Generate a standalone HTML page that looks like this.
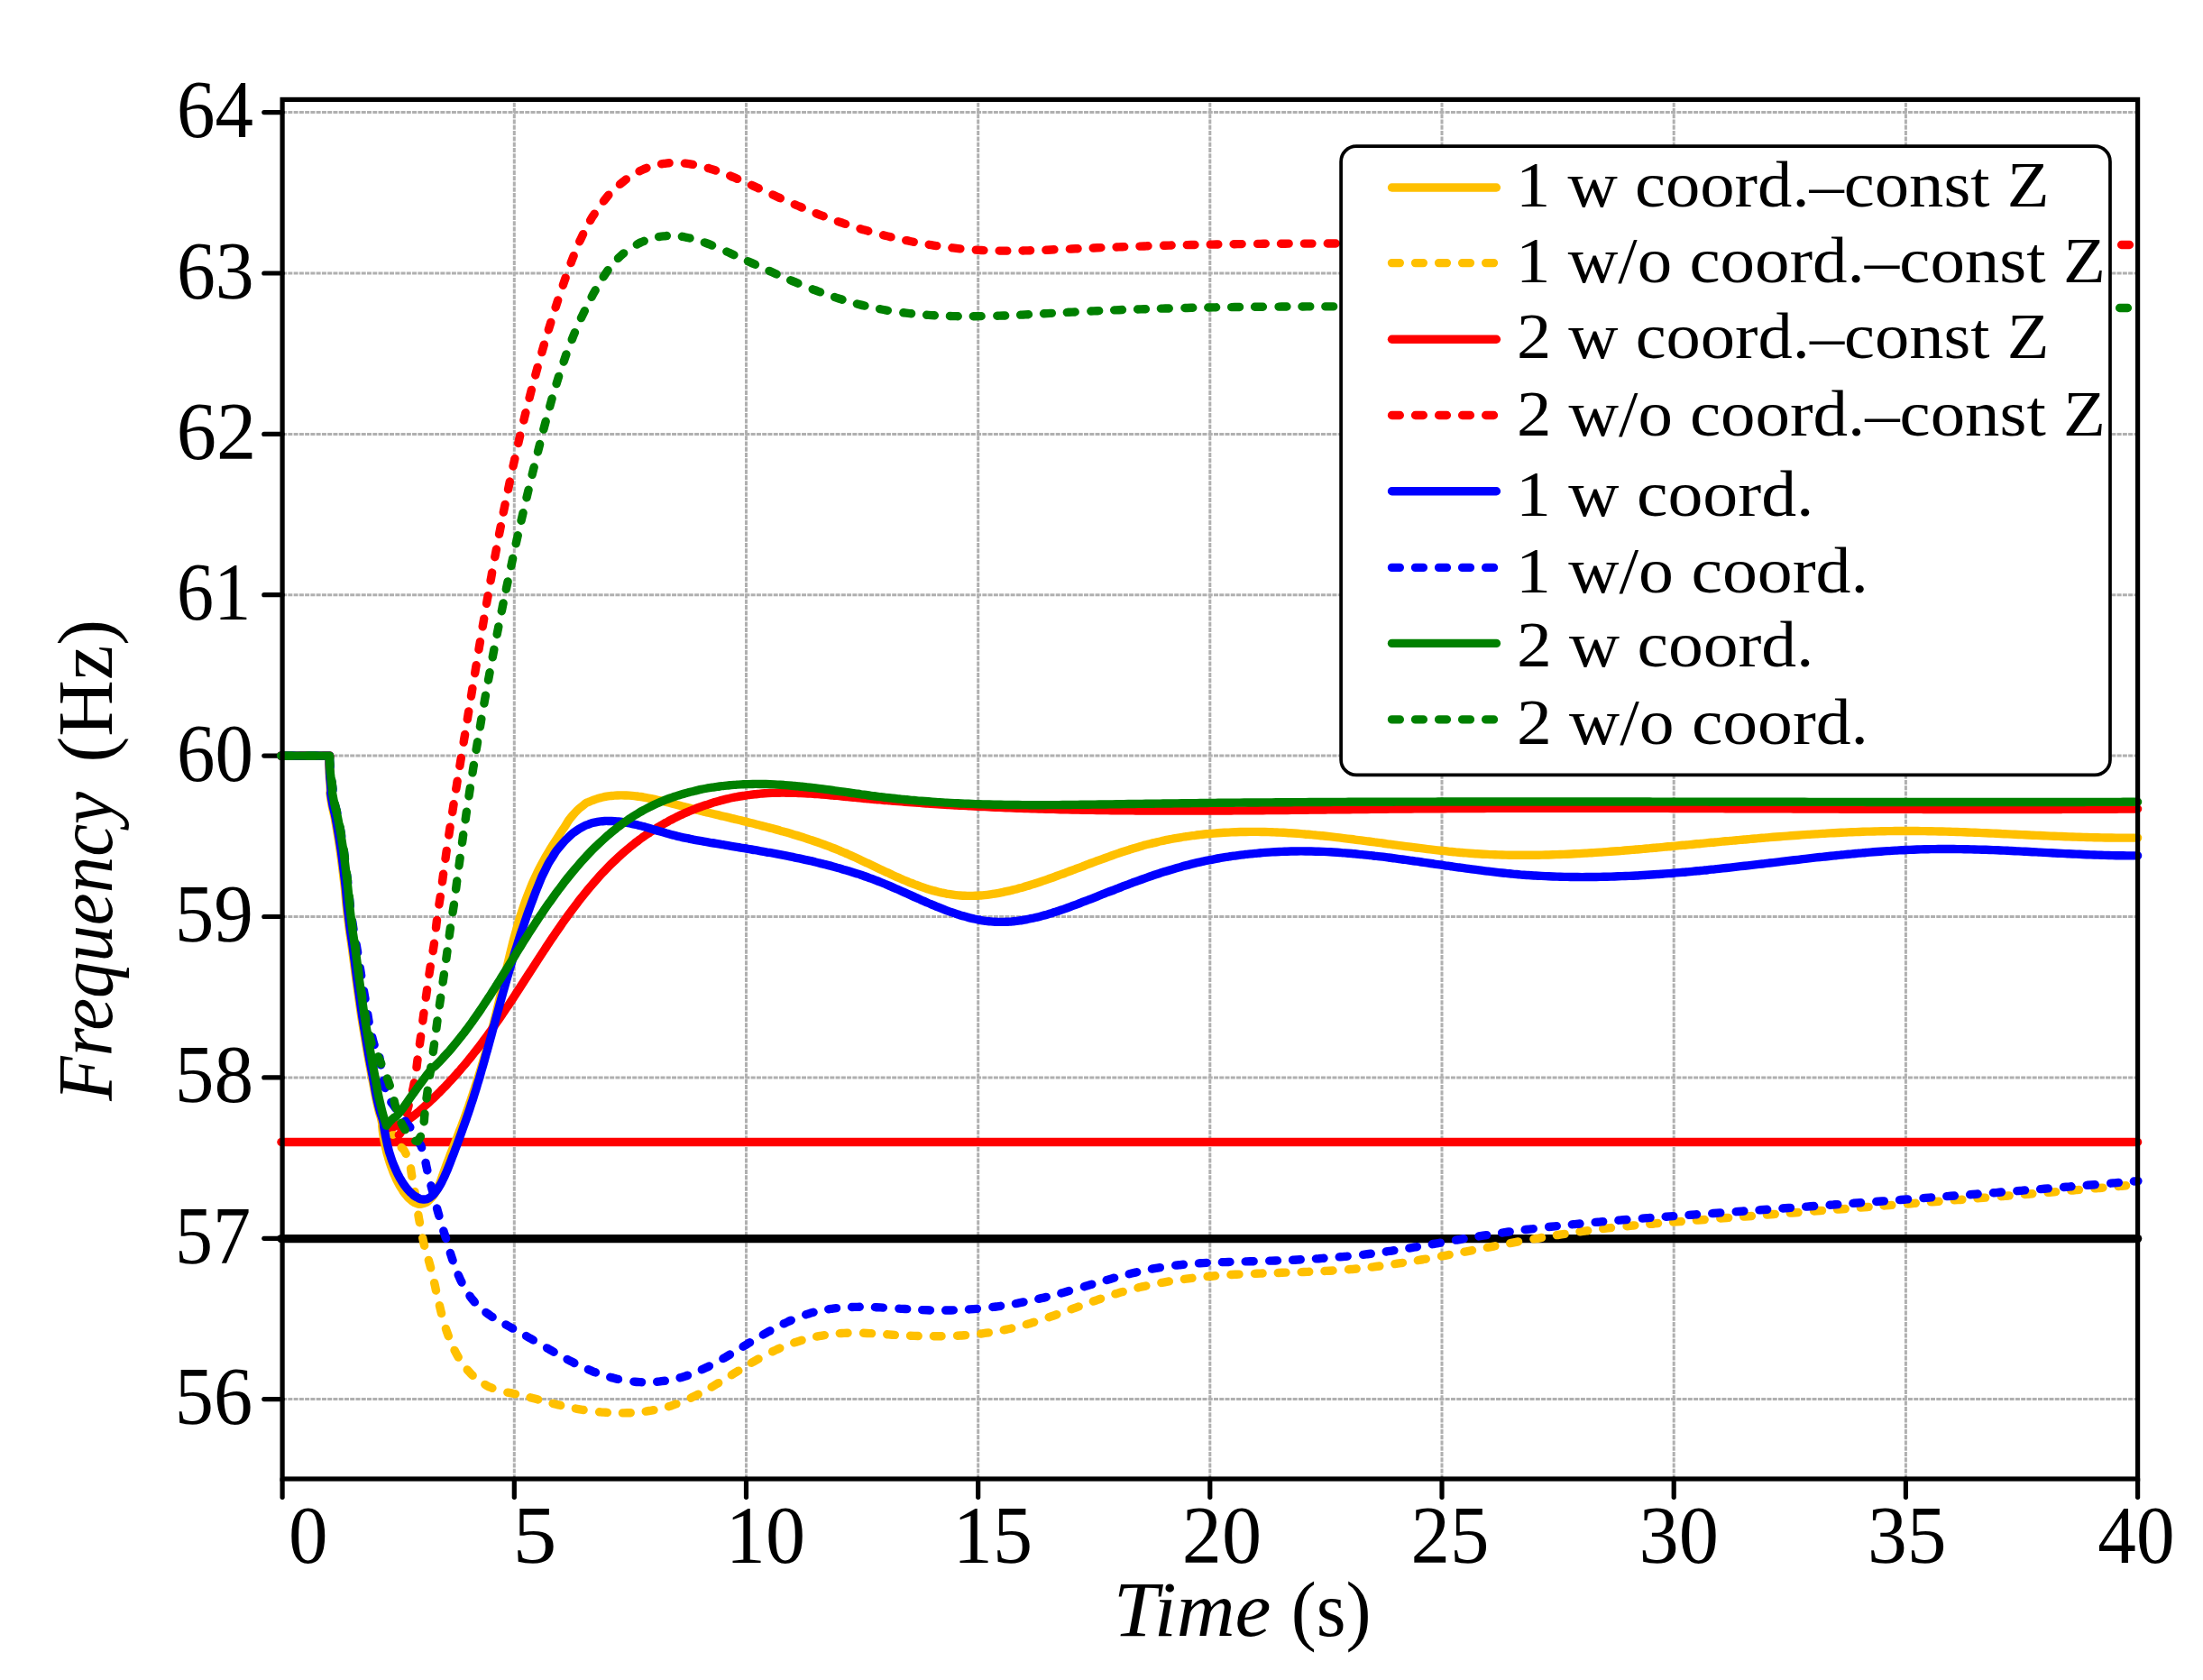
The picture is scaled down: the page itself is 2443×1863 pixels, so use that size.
<!DOCTYPE html>
<html lang="en"><head><meta charset="utf-8"><title>Frequency response</title>
<style>html,body{margin:0;padding:0;background:#fff}svg{display:block}text{font-family:"Liberation Serif","DejaVu Serif",serif;fill:#000}</style>
</head><body>
<svg width="2443" height="1863" viewBox="0 0 2443 1863" role="img" aria-label="Frequency versus time for eight simulated cases">
<rect width="2443" height="1863" fill="#fff"/>
<g stroke="#b0b0b0" stroke-width="3" stroke-dasharray="5 1.26" fill="none">
<line x1="570.3" y1="1640.0" x2="570.3" y2="110.4"/>
<line x1="827.5" y1="1640.0" x2="827.5" y2="110.4"/>
<line x1="1084.7" y1="1640.0" x2="1084.7" y2="110.4"/>
<line x1="1341.8" y1="1640.0" x2="1341.8" y2="110.4"/>
<line x1="1599.0" y1="1640.0" x2="1599.0" y2="110.4"/>
<line x1="1856.2" y1="1640.0" x2="1856.2" y2="110.4"/>
<line x1="2113.4" y1="1640.0" x2="2113.4" y2="110.4"/>
<line x1="313.1" y1="1551.6" x2="2370.6" y2="1551.6"/>
<line x1="313.1" y1="1373.3" x2="2370.6" y2="1373.3"/>
<line x1="313.1" y1="1194.9" x2="2370.6" y2="1194.9"/>
<line x1="313.1" y1="1016.5" x2="2370.6" y2="1016.5"/>
<line x1="313.1" y1="838.1" x2="2370.6" y2="838.1"/>
<line x1="313.1" y1="659.7" x2="2370.6" y2="659.7"/>
<line x1="313.1" y1="481.4" x2="2370.6" y2="481.4"/>
<line x1="313.1" y1="303.0" x2="2370.6" y2="303.0"/>
<line x1="313.1" y1="124.6" x2="2370.6" y2="124.6"/>
</g>
<g stroke="#000" stroke-width="5.2" stroke-linecap="round" fill="none">
<line x1="313.1" y1="1640.0" x2="313.1" y2="1660.3"/>
<line x1="570.3" y1="1640.0" x2="570.3" y2="1660.3"/>
<line x1="827.5" y1="1640.0" x2="827.5" y2="1660.3"/>
<line x1="1084.7" y1="1640.0" x2="1084.7" y2="1660.3"/>
<line x1="1341.8" y1="1640.0" x2="1341.8" y2="1660.3"/>
<line x1="1599.0" y1="1640.0" x2="1599.0" y2="1660.3"/>
<line x1="1856.2" y1="1640.0" x2="1856.2" y2="1660.3"/>
<line x1="2113.4" y1="1640.0" x2="2113.4" y2="1660.3"/>
<line x1="2370.6" y1="1640.0" x2="2370.6" y2="1660.3"/>
<line x1="313.1" y1="1551.6" x2="292.8" y2="1551.6"/>
<line x1="313.1" y1="1373.3" x2="292.8" y2="1373.3"/>
<line x1="313.1" y1="1194.9" x2="292.8" y2="1194.9"/>
<line x1="313.1" y1="1016.5" x2="292.8" y2="1016.5"/>
<line x1="313.1" y1="838.1" x2="292.8" y2="838.1"/>
<line x1="313.1" y1="659.7" x2="292.8" y2="659.7"/>
<line x1="313.1" y1="481.4" x2="292.8" y2="481.4"/>
<line x1="313.1" y1="303.0" x2="292.8" y2="303.0"/>
<line x1="313.1" y1="124.6" x2="292.8" y2="124.6"/>
</g>
<g fill="none" stroke-width="9.4" stroke-linecap="round">
<line x1="311.9" y1="1373.6" x2="2370.6" y2="1373.6" stroke="#000"/>
<line x1="311.9" y1="1266.5" x2="2370.6" y2="1266.5" stroke="#FF0000"/>
</g>
<path d="M311.6 838.1L365.6 838.1C365.4 842.4 364.8 839.5 365.0 851.0C365.2 862.5 365.5 860.5 366.2 872.6C366.9 884.7 364.7 871.2 367.1 887.2C369.6 903.2 369.2 893.6 373.6 920.5C378.0 947.4 376.4 936.2 380.4 968.0C384.4 999.8 382.0 986.7 385.5 1016.0C389.0 1045.3 387.1 1027.0 391.0 1056.0C394.9 1085.0 392.8 1071.7 397.3 1103.0C401.8 1134.3 399.4 1119.5 404.5 1150.0C409.6 1180.5 407.8 1169.6 412.5 1194.6C417.2 1219.6 415.0 1209.2 418.5 1225.0C422.0 1240.8 421.2 1233.7 423.0 1242.0C424.8 1250.3 423.2 1244.7 423.9 1250.0C424.5 1255.3 424.1 1252.6 424.9 1257.9C425.7 1263.2 425.3 1260.6 426.3 1265.8C427.2 1271.1 426.7 1268.5 427.9 1273.7C429.1 1278.9 428.4 1276.3 429.9 1281.5C431.3 1286.6 430.6 1284.0 432.2 1289.1C433.9 1294.2 433.0 1291.7 434.9 1296.7C436.8 1301.7 435.8 1299.2 438.0 1304.1C440.1 1309.0 438.9 1306.6 441.4 1311.4C443.9 1316.1 442.5 1313.8 445.4 1318.3C448.3 1322.8 446.6 1320.7 450.0 1324.8C453.5 1328.9 451.5 1327.3 455.6 1330.6C459.7 1333.9 457.6 1333.5 462.5 1334.7C467.3 1335.9 465.5 1335.9 470.3 1334.2C475.1 1332.6 473.0 1333.3 476.9 1329.7C480.8 1326.2 479.0 1328.0 482.0 1323.6C485.0 1319.2 483.6 1321.4 485.9 1316.5C488.1 1311.7 487.0 1314.1 488.9 1309.1C490.7 1304.1 489.7 1306.6 491.5 1301.5C493.3 1296.5 492.4 1299.0 494.2 1294.0C496.1 1289.0 495.1 1291.5 497.1 1286.5C499.0 1281.5 498.0 1284.0 499.9 1279.0C501.9 1274.0 500.9 1276.5 502.9 1271.5C504.8 1266.6 503.9 1269.1 505.8 1264.1C507.8 1259.1 506.8 1261.6 508.7 1256.6C510.6 1251.6 509.7 1254.1 511.6 1249.1C513.5 1244.1 512.5 1246.6 514.4 1241.6C516.2 1236.6 515.3 1239.1 517.1 1234.0C518.9 1229.0 518.0 1231.5 519.8 1226.5C521.5 1221.4 520.7 1224.0 522.4 1218.9C524.1 1213.8 523.3 1216.4 524.9 1211.3C526.6 1206.2 525.8 1208.8 527.4 1203.7C529.1 1198.6 528.3 1201.1 529.9 1196.0C531.5 1190.9 530.7 1193.5 532.3 1188.4C533.9 1183.3 533.1 1185.8 534.6 1180.7C536.2 1175.6 535.4 1178.1 536.9 1173.0C538.4 1167.9 537.7 1170.5 539.1 1165.3C540.6 1160.2 539.9 1162.7 541.3 1157.6C542.7 1152.4 542.0 1155.0 543.4 1149.9C544.8 1144.7 544.1 1147.3 545.5 1142.1C546.8 1136.9 546.2 1139.5 547.5 1134.3C548.8 1129.2 548.2 1131.8 549.5 1126.6C550.8 1121.4 550.1 1124.0 551.4 1118.8C552.7 1113.6 552.0 1116.2 553.3 1111.0C554.5 1105.8 553.9 1108.4 555.1 1103.2C556.3 1098.0 555.7 1100.6 556.9 1095.4C558.1 1090.1 555.7 1100.6 558.7 1087.5C561.7 1074.5 561.6 1074.5 566.0 1056.3C570.5 1038.1 567.8 1048.5 572.1 1033.0C576.4 1017.6 574.0 1025.2 579.0 1010.0C584.1 994.8 582.4 999.8 587.2 987.4C592.1 974.9 589.1 982.3 593.6 972.6C598.1 962.9 595.7 967.7 600.7 958.3C605.8 948.8 603.2 953.5 608.6 944.3C614.1 935.1 611.3 939.7 617.1 930.7C622.8 921.7 619.9 926.1 625.9 917.3C631.9 908.4 628.2 912.2 635.1 904.1C642.1 896.1 640.5 898.1 646.7 893.1C652.9 888.1 648.8 891.4 653.6 889.1C658.4 886.8 656.0 887.8 661.0 886.1C666.1 884.4 663.6 885.1 668.8 884.0C674.0 882.9 671.4 883.3 676.7 882.7C682.0 882.0 679.4 882.3 684.7 882.0C690.0 881.8 687.4 881.9 692.7 882.0C698.1 882.1 695.4 882.0 700.7 882.4C706.0 882.9 703.4 882.6 708.7 883.3C714.0 884.0 711.3 883.6 716.6 884.6C721.9 885.5 719.3 885.0 724.5 886.1C729.7 887.2 727.1 886.6 732.3 887.8C737.5 889.1 734.9 888.4 740.1 889.7C745.3 891.0 742.7 890.4 747.9 891.7C753.1 893.1 750.5 892.4 755.6 893.8C760.8 895.1 758.2 894.4 763.4 895.8C768.6 897.1 766.0 896.4 771.2 897.7C776.4 899.0 773.8 898.4 779.0 899.6C784.2 900.9 781.6 900.3 786.8 901.5C792.0 902.8 789.4 902.2 794.6 903.4C799.8 904.7 797.2 904.0 802.4 905.3C807.6 906.5 805.0 905.9 810.2 907.1C815.4 908.4 812.8 907.8 818.0 909.0C823.2 910.3 820.6 909.6 825.8 910.9C831.0 912.2 828.4 911.5 833.6 912.8C838.7 914.1 836.1 913.5 841.3 914.8C846.5 916.1 843.9 915.4 849.1 916.8C854.3 918.1 851.7 917.4 856.9 918.8C862.0 920.2 859.4 919.5 864.6 920.9C869.7 922.4 867.2 921.6 872.3 923.1C877.4 924.6 874.9 923.8 880.0 925.4C885.1 926.9 882.6 926.1 887.7 927.7C892.8 929.3 890.2 928.5 895.3 930.2C900.4 931.8 897.9 931.0 902.9 932.7C908.0 934.5 905.5 933.6 910.5 935.4C915.5 937.2 913.0 936.3 918.0 938.1C923.0 940.0 920.5 939.1 925.5 941.0C930.5 943.0 928.0 942.0 932.9 944.1C937.9 946.1 935.4 945.1 940.3 947.2C945.2 949.4 942.7 948.3 947.6 950.5C952.5 952.7 950.1 951.6 954.9 953.9C959.7 956.1 957.3 955.0 962.2 957.3C967.0 959.6 964.6 958.4 969.4 960.7C974.2 963.0 971.8 961.9 976.6 964.2C981.5 966.5 979.0 965.4 983.9 967.6C988.7 969.9 986.3 968.8 991.2 971.0C996.1 973.2 993.6 972.1 998.5 974.2C1003.4 976.4 1000.9 975.3 1005.9 977.4C1010.8 979.4 1008.3 978.4 1013.3 980.3C1018.3 982.3 1015.8 981.3 1020.9 983.1C1025.9 984.9 1023.4 984.1 1028.5 985.7C1033.6 987.3 1031.0 986.5 1036.2 987.9C1041.3 989.3 1038.7 988.7 1043.9 989.9C1049.2 991.0 1046.5 990.5 1051.8 991.4C1057.1 992.3 1054.4 992.0 1059.8 992.6C1065.1 993.2 1062.4 992.9 1067.7 993.2C1073.1 993.5 1070.4 993.4 1075.8 993.4C1081.1 993.4 1078.4 993.5 1083.8 993.2C1089.1 992.9 1086.5 993.1 1091.8 992.6C1097.1 992.0 1094.4 992.3 1099.7 991.6C1105.0 990.8 1102.4 991.2 1107.6 990.3C1112.9 989.3 1110.3 989.8 1115.5 988.7C1120.7 987.6 1118.1 988.2 1123.3 986.9C1128.5 985.6 1125.9 986.3 1131.1 984.8C1136.2 983.4 1133.7 984.2 1138.8 982.6C1143.9 981.1 1141.4 981.9 1146.5 980.3C1151.5 978.6 1149.0 979.5 1154.1 977.8C1159.1 976.1 1156.6 976.9 1161.7 975.1C1166.7 973.4 1164.2 974.3 1169.2 972.5C1174.2 970.6 1171.7 971.6 1176.8 969.7C1181.8 967.9 1179.3 968.8 1184.3 966.9C1189.3 965.0 1186.8 966.0 1191.8 964.1C1196.8 962.2 1194.3 963.1 1199.3 961.3C1204.3 959.4 1201.8 960.3 1206.8 958.4C1211.8 956.5 1209.3 957.5 1214.3 955.6C1219.3 953.7 1216.8 954.6 1221.8 952.8C1226.8 951.0 1224.3 951.9 1229.4 950.1C1234.4 948.3 1231.9 949.2 1236.9 947.4C1242.0 945.7 1239.4 946.5 1244.5 944.8C1249.6 943.1 1247.0 944.0 1252.1 942.4C1257.2 940.7 1254.7 941.5 1259.8 940.0C1264.9 938.5 1262.4 939.2 1267.5 937.8C1272.7 936.3 1270.1 937.0 1275.3 935.7C1280.5 934.4 1277.9 935.0 1283.1 933.8C1288.3 932.6 1285.7 933.2 1290.9 932.1C1296.1 931.0 1293.5 931.5 1298.8 930.5C1304.0 929.5 1301.4 930.0 1306.7 929.1C1311.9 928.2 1309.3 928.6 1314.6 927.8C1319.9 927.0 1317.2 927.4 1322.5 926.7C1327.8 926.0 1325.2 926.3 1330.5 925.7C1335.8 925.1 1333.1 925.3 1338.4 924.8C1343.8 924.3 1341.1 924.5 1346.4 924.1C1351.8 923.7 1349.1 923.9 1354.4 923.5C1359.8 923.2 1357.1 923.3 1362.4 923.1C1367.8 922.8 1365.1 922.9 1370.5 922.7C1375.8 922.5 1373.1 922.6 1378.5 922.5C1383.8 922.4 1381.1 922.4 1386.5 922.4C1391.8 922.4 1389.2 922.4 1394.5 922.4C1399.9 922.5 1397.2 922.4 1402.5 922.5C1407.9 922.6 1405.2 922.6 1410.6 922.8C1415.9 922.9 1413.2 922.8 1418.6 923.1C1423.9 923.3 1421.2 923.2 1426.6 923.5C1431.9 923.8 1429.2 923.7 1434.6 924.0C1439.9 924.4 1437.3 924.2 1442.6 924.6C1447.9 925.1 1445.2 924.8 1450.6 925.3C1455.9 925.8 1453.2 925.5 1458.6 926.0C1463.9 926.6 1461.2 926.3 1466.5 926.8C1471.9 927.4 1469.2 927.1 1474.5 927.7C1479.8 928.3 1477.2 928.0 1482.5 928.6C1487.8 929.2 1485.1 928.9 1490.5 929.6C1495.8 930.2 1493.1 929.9 1498.4 930.5C1503.7 931.2 1501.1 930.9 1506.4 931.6C1511.7 932.2 1509.0 931.9 1514.3 932.6C1519.6 933.3 1517.0 932.9 1522.3 933.7C1527.6 934.4 1524.9 934.0 1530.2 934.7C1535.5 935.4 1532.9 935.1 1538.2 935.8C1543.5 936.5 1540.8 936.1 1546.1 936.9C1551.4 937.6 1548.8 937.2 1554.1 937.9C1559.4 938.6 1556.7 938.3 1562.0 938.9C1567.3 939.6 1564.7 939.3 1570.0 940.0C1575.3 940.6 1572.6 940.3 1577.9 940.9C1583.3 941.6 1580.6 941.3 1585.9 941.9C1591.2 942.5 1588.6 942.2 1593.9 942.8C1599.2 943.4 1596.5 943.1 1601.9 943.7C1607.2 944.2 1604.5 944.0 1609.8 944.5C1615.2 945.0 1612.5 944.7 1617.8 945.2C1623.2 945.7 1620.5 945.5 1625.8 945.9C1631.1 946.3 1628.5 946.1 1633.8 946.5C1639.2 946.8 1636.5 946.7 1641.8 947.0C1647.2 947.3 1644.5 947.1 1649.8 947.4C1655.2 947.7 1652.5 947.5 1657.8 947.7C1663.2 947.9 1660.5 947.9 1665.9 948.0C1671.2 948.1 1668.5 948.1 1673.9 948.2C1679.2 948.3 1676.6 948.2 1681.9 948.3C1687.2 948.3 1684.6 948.3 1689.9 948.3C1695.3 948.3 1692.6 948.3 1697.9 948.3C1703.3 948.2 1700.6 948.3 1706.0 948.2C1711.3 948.1 1708.6 948.1 1714.0 948.0C1719.3 947.9 1716.7 948.0 1722.0 947.8C1727.3 947.6 1724.7 947.7 1730.0 947.5C1735.4 947.3 1732.7 947.4 1738.0 947.2C1743.4 947.0 1740.7 947.1 1746.0 946.8C1751.4 946.5 1748.7 946.7 1754.1 946.4C1759.4 946.1 1756.7 946.2 1762.1 945.9C1767.4 945.6 1764.7 945.8 1770.1 945.4C1775.4 945.1 1772.7 945.2 1778.1 944.9C1783.4 944.5 1780.7 944.7 1786.1 944.3C1791.4 943.9 1788.7 944.1 1794.1 943.7C1799.4 943.3 1796.7 943.5 1802.1 943.0C1807.4 942.6 1804.7 942.8 1810.1 942.4C1815.4 941.9 1812.7 942.2 1818.1 941.7C1823.4 941.2 1820.7 941.5 1826.0 941.0C1831.4 940.5 1828.7 940.8 1834.0 940.3C1839.4 939.8 1836.7 940.0 1842.0 939.6C1847.3 939.1 1844.7 939.3 1850.0 938.8C1855.3 938.3 1852.7 938.6 1858.0 938.1C1863.3 937.6 1860.7 937.8 1866.0 937.3C1871.3 936.8 1868.6 937.1 1874.0 936.6C1879.3 936.1 1876.6 936.3 1882.0 935.8C1887.3 935.3 1884.6 935.6 1889.9 935.1C1895.3 934.6 1892.6 934.8 1897.9 934.3C1903.2 933.8 1900.6 934.1 1905.9 933.6C1911.2 933.1 1908.6 933.3 1913.9 932.8C1919.2 932.4 1916.6 932.6 1921.9 932.1C1927.2 931.6 1924.5 931.9 1929.9 931.4C1935.2 930.9 1932.5 931.2 1937.9 930.7C1943.2 930.2 1940.5 930.4 1945.9 930.0C1951.2 929.5 1948.5 929.8 1953.8 929.3C1959.2 928.9 1956.5 929.1 1961.8 928.6C1967.2 928.2 1964.5 928.4 1969.8 928.0C1975.2 927.6 1972.5 927.8 1977.8 927.4C1983.2 927.0 1980.5 927.2 1985.8 926.8C1991.2 926.4 1988.5 926.6 1993.8 926.2C1999.2 925.8 1996.5 926.0 2001.8 925.6C2007.2 925.3 2004.5 925.5 2009.8 925.1C2015.2 924.8 2012.5 924.9 2017.8 924.6C2023.2 924.3 2020.5 924.4 2025.8 924.1C2031.2 923.8 2028.5 924.0 2033.9 923.7C2039.2 923.4 2036.5 923.6 2041.9 923.3C2047.2 923.0 2044.5 923.2 2049.9 922.9C2055.2 922.7 2052.6 922.8 2057.9 922.6C2063.2 922.4 2060.6 922.5 2065.9 922.3C2071.3 922.1 2068.6 922.2 2073.9 922.1C2079.3 921.9 2076.6 922.0 2081.9 921.9C2087.3 921.7 2084.6 921.8 2090.0 921.7C2095.3 921.6 2092.6 921.6 2098.0 921.6C2103.3 921.5 2100.7 921.5 2106.0 921.5C2111.4 921.5 2108.7 921.5 2114.0 921.5C2119.4 921.5 2116.7 921.5 2122.1 921.5C2127.4 921.5 2124.7 921.5 2130.1 921.6C2135.4 921.6 2132.7 921.6 2138.1 921.7C2143.4 921.8 2140.8 921.7 2146.1 921.9C2151.5 922.0 2148.8 921.9 2154.1 922.0C2159.5 922.2 2156.8 922.1 2162.1 922.3C2167.5 922.4 2164.8 922.3 2170.2 922.5C2175.5 922.7 2172.8 922.6 2178.2 922.8C2183.5 923.0 2180.9 922.9 2186.2 923.1C2191.5 923.3 2188.9 923.2 2194.2 923.4C2199.6 923.7 2196.9 923.6 2202.2 923.8C2207.6 924.0 2204.9 923.9 2210.2 924.1C2215.6 924.4 2212.9 924.3 2218.3 924.5C2223.6 924.8 2220.9 924.6 2226.3 924.9C2231.6 925.1 2228.9 925.0 2234.3 925.3C2239.6 925.5 2236.9 925.4 2242.3 925.6C2247.6 925.9 2245.0 925.8 2250.3 926.0C2255.6 926.3 2253.0 926.1 2258.3 926.4C2263.7 926.6 2261.0 926.5 2266.3 926.7C2271.7 927.0 2269.0 926.9 2274.3 927.1C2279.7 927.3 2277.0 927.2 2282.4 927.4C2287.7 927.6 2285.0 927.5 2290.4 927.7C2295.7 927.9 2293.0 927.8 2298.4 928.0C2303.7 928.2 2301.1 928.1 2306.4 928.3C2311.7 928.4 2309.1 928.4 2314.4 928.5C2319.8 928.7 2317.1 928.6 2322.4 928.7C2327.8 928.8 2325.1 928.8 2330.5 928.9C2335.8 929.0 2333.1 928.9 2338.5 929.0C2343.8 929.1 2341.2 929.1 2346.5 929.1C2351.8 929.1 2349.2 929.1 2354.5 929.1C2359.9 929.1 2357.2 929.1 2362.5 929.1C2367.9 929.1 2367.9 929.1 2370.6 929.1" fill="none" stroke="#FFC000" stroke-width="9.4" stroke-linecap="round" stroke-linejoin="round"/>
<path d="M311.6 838.1L365.6 838.1C365.5 842.4 364.9 839.5 365.4 851.0C365.8 862.5 366.0 860.5 367.0 872.6C368.0 884.7 365.7 871.2 368.4 887.2C371.0 903.2 370.6 893.6 375.1 920.5C379.6 947.4 377.9 936.2 381.9 968.0C385.9 999.8 383.5 986.7 387.0 1016.0C390.5 1045.3 388.6 1027.0 392.5 1056.0C396.4 1085.0 394.3 1071.7 398.8 1103.0C403.3 1134.3 401.1 1119.7 406.0 1150.0C410.9 1180.3 409.2 1170.0 413.5 1194.0C417.8 1218.0 415.2 1206.7 419.0 1222.0C422.8 1237.3 420.3 1229.3 425.0 1240.0C429.7 1250.7 427.3 1244.7 433.0 1254.0C438.7 1263.3 435.7 1258.1 442.0 1268.0C448.3 1277.9 446.7 1270.3 451.9 1283.8C457.1 1297.3 454.2 1291.5 457.6 1308.6C461.0 1325.7 459.1 1317.9 462.0 1335.0C464.9 1352.1 462.9 1342.8 466.2 1360.0C469.5 1377.2 469.2 1375.3 471.9 1386.7C474.6 1398.1 472.8 1389.2 474.4 1394.3C475.9 1399.4 475.2 1396.9 476.6 1402.0C478.0 1407.2 477.3 1404.6 478.6 1409.8C479.9 1415.0 479.2 1412.4 480.5 1417.6C481.7 1422.8 481.1 1420.2 482.3 1425.4C483.5 1430.7 482.8 1428.1 484.0 1433.3C485.2 1438.5 484.6 1435.9 485.8 1441.1C487.0 1446.3 486.4 1443.7 487.7 1448.9C488.9 1454.1 488.3 1451.5 489.6 1456.7C491.0 1461.9 490.3 1459.3 491.7 1464.4C493.2 1469.6 492.4 1467.0 494.0 1472.1C495.7 1477.2 494.8 1474.7 496.6 1479.7C498.4 1484.7 497.4 1482.3 499.5 1487.2C501.5 1492.1 500.4 1489.7 502.7 1494.5C505.0 1499.4 503.8 1497.0 506.4 1501.7C509.0 1506.4 507.6 1504.1 510.5 1508.6C513.4 1513.0 511.9 1510.9 515.1 1515.1C518.4 1519.3 516.7 1517.3 520.3 1521.2C523.9 1525.2 522.0 1523.3 526.0 1526.9C530.0 1530.4 528.0 1528.8 532.3 1531.9C536.7 1534.9 534.4 1533.6 539.1 1536.1C543.8 1538.7 541.4 1537.5 546.4 1539.5C551.3 1541.5 548.9 1540.5 554.0 1542.0C559.1 1543.4 556.6 1542.7 561.8 1543.9C567.0 1545.0 564.4 1544.4 569.7 1545.5C574.9 1546.6 572.3 1546.0 577.5 1547.2C582.7 1548.4 580.1 1547.8 585.3 1549.0C590.5 1550.3 587.9 1549.7 593.1 1551.0C598.3 1552.4 595.7 1551.7 600.8 1553.1C606.0 1554.5 603.4 1553.8 608.6 1555.2C613.8 1556.5 611.2 1555.9 616.4 1557.2C621.6 1558.5 619.0 1557.8 624.2 1559.0C629.4 1560.2 626.8 1559.7 632.0 1560.8C637.2 1561.8 634.6 1561.3 639.9 1562.3C645.1 1563.3 642.5 1562.8 647.8 1563.6C653.1 1564.5 650.4 1564.1 655.7 1564.8C661.0 1565.4 658.4 1565.1 663.7 1565.7C669.0 1566.2 666.4 1566.0 671.7 1566.3C677.0 1566.7 674.4 1566.6 679.7 1566.8C685.1 1567.0 682.4 1566.9 687.7 1566.9C693.1 1566.9 690.4 1567.0 695.8 1566.8C701.1 1566.6 698.4 1566.8 703.8 1566.4C709.1 1566.0 706.5 1566.2 711.8 1565.6C717.1 1565.0 714.4 1565.4 719.7 1564.5C725.0 1563.7 722.4 1564.2 727.6 1563.1C732.9 1562.0 730.3 1562.6 735.4 1561.3C740.6 1560.0 738.1 1560.7 743.2 1559.2C748.3 1557.6 745.8 1558.4 750.8 1556.6C755.8 1554.8 753.3 1555.8 758.3 1553.7C763.2 1551.6 760.7 1552.7 765.6 1550.5C770.4 1548.2 768.0 1549.4 772.8 1547.0C777.6 1544.5 775.2 1545.8 779.9 1543.2C784.6 1540.7 782.3 1542.0 786.9 1539.3C791.6 1536.7 789.3 1538.0 793.9 1535.3C798.5 1532.6 796.2 1533.9 800.7 1531.2C805.3 1528.4 803.0 1529.8 807.6 1527.0C812.2 1524.2 809.9 1525.6 814.4 1522.8C819.0 1520.0 816.7 1521.4 821.3 1518.6C825.8 1515.8 823.5 1517.2 828.1 1514.4C832.7 1511.7 830.4 1513.0 835.0 1510.3C839.7 1507.7 837.3 1509.0 842.0 1506.4C846.7 1503.8 844.3 1505.1 849.1 1502.6C853.8 1500.1 851.4 1501.3 856.3 1499.0C861.1 1496.6 858.6 1497.8 863.5 1495.6C868.4 1493.4 866.0 1494.5 870.9 1492.5C875.9 1490.5 873.4 1491.5 878.5 1489.7C883.5 1487.9 881.0 1488.8 886.1 1487.2C891.2 1485.6 888.6 1486.3 893.8 1485.0C899.0 1483.6 896.4 1484.2 901.6 1483.1C906.8 1481.9 904.2 1482.4 909.4 1481.4C914.7 1480.5 912.1 1480.9 917.4 1480.2C922.7 1479.4 920.0 1479.7 925.3 1479.2C930.7 1478.6 928.0 1478.8 933.3 1478.5C938.7 1478.2 936.0 1478.3 941.3 1478.2C946.7 1478.0 944.0 1478.1 949.4 1478.1C954.7 1478.2 952.0 1478.1 957.4 1478.3C962.7 1478.5 960.1 1478.4 965.4 1478.6C970.8 1478.9 968.1 1478.8 973.4 1479.1C978.8 1479.5 976.1 1479.3 981.4 1479.6C986.8 1480.0 984.1 1479.8 989.4 1480.2C994.8 1480.5 992.1 1480.4 997.4 1480.6C1002.8 1480.9 1000.1 1480.8 1005.5 1481.1C1010.8 1481.3 1008.1 1481.2 1013.5 1481.4C1018.8 1481.6 1016.1 1481.5 1021.5 1481.6C1026.8 1481.8 1024.2 1481.7 1029.5 1481.8C1034.9 1481.8 1032.2 1481.8 1037.5 1481.8C1042.9 1481.8 1040.2 1481.8 1045.6 1481.7C1050.9 1481.6 1048.2 1481.7 1053.6 1481.5C1058.9 1481.3 1056.3 1481.5 1061.6 1481.2C1067.0 1480.9 1064.3 1481.1 1069.6 1480.7C1075.0 1480.3 1072.3 1480.5 1077.6 1480.0C1082.9 1479.5 1080.3 1479.8 1085.6 1479.2C1090.9 1478.6 1088.3 1478.9 1093.6 1478.2C1098.9 1477.5 1096.2 1477.9 1101.5 1477.0C1106.8 1476.1 1104.1 1476.6 1109.4 1475.6C1114.7 1474.6 1112.0 1475.2 1117.3 1474.0C1122.5 1472.9 1119.9 1473.5 1125.1 1472.2C1130.3 1470.9 1127.7 1471.6 1132.8 1470.2C1138.0 1468.8 1135.4 1469.5 1140.6 1468.0C1145.7 1466.5 1143.1 1467.3 1148.2 1465.7C1153.3 1464.1 1150.8 1464.9 1155.9 1463.2C1161.0 1461.5 1158.4 1462.4 1163.5 1460.6C1168.5 1458.9 1166.0 1459.8 1171.1 1458.0C1176.1 1456.2 1173.6 1457.1 1178.6 1455.3C1183.6 1453.5 1181.1 1454.4 1186.2 1452.5C1191.2 1450.7 1188.7 1451.6 1193.7 1449.8C1198.7 1448.0 1196.2 1448.9 1201.2 1447.0C1206.3 1445.2 1203.7 1446.1 1208.8 1444.3C1213.8 1442.5 1211.3 1443.4 1216.4 1441.7C1221.4 1439.9 1218.9 1440.8 1223.9 1439.1C1229.0 1437.4 1226.5 1438.2 1231.6 1436.6C1236.7 1434.9 1234.1 1435.7 1239.2 1434.2C1244.4 1432.6 1241.8 1433.4 1246.9 1431.9C1252.1 1430.5 1249.5 1431.2 1254.7 1429.8C1259.9 1428.5 1257.3 1429.1 1262.5 1427.9C1267.7 1426.6 1265.1 1427.2 1270.3 1426.1C1275.5 1424.9 1272.9 1425.5 1278.1 1424.4C1283.4 1423.3 1280.8 1423.8 1286.0 1422.8C1291.3 1421.9 1288.6 1422.3 1293.9 1421.4C1299.2 1420.5 1296.5 1421.0 1301.8 1420.1C1307.1 1419.3 1304.5 1419.7 1309.8 1418.9C1315.1 1418.2 1312.4 1418.6 1317.7 1417.9C1323.0 1417.2 1320.4 1417.5 1325.7 1416.9C1331.0 1416.3 1328.3 1416.6 1333.7 1416.1C1339.0 1415.5 1336.3 1415.8 1341.7 1415.3C1347.0 1414.8 1344.3 1415.1 1349.6 1414.6C1355.0 1414.2 1352.3 1414.4 1357.7 1414.1C1363.0 1413.7 1360.3 1413.9 1365.7 1413.5C1371.0 1413.2 1368.3 1413.4 1373.7 1413.1C1379.0 1412.8 1376.3 1413.0 1381.7 1412.7C1387.0 1412.5 1384.4 1412.6 1389.7 1412.4C1395.1 1412.2 1392.4 1412.3 1397.7 1412.1C1403.1 1411.9 1400.4 1412.0 1405.7 1411.8C1411.1 1411.6 1408.4 1411.7 1413.8 1411.6C1419.1 1411.4 1416.4 1411.5 1421.8 1411.3C1427.1 1411.1 1424.5 1411.2 1429.8 1411.1C1435.2 1410.9 1432.5 1411.0 1437.8 1410.8C1443.2 1410.6 1440.5 1410.7 1445.8 1410.5C1451.2 1410.3 1448.5 1410.4 1453.9 1410.2C1459.2 1410.0 1456.5 1410.1 1461.9 1409.8C1467.2 1409.6 1464.6 1409.7 1469.9 1409.4C1475.2 1409.2 1472.6 1409.3 1477.9 1409.0C1483.2 1408.7 1480.6 1408.8 1485.9 1408.5C1491.3 1408.1 1488.6 1408.3 1493.9 1407.9C1499.3 1407.4 1496.6 1407.7 1501.9 1407.2C1507.2 1406.7 1504.6 1406.9 1509.9 1406.4C1515.2 1405.8 1512.6 1406.1 1517.9 1405.5C1523.2 1404.9 1520.5 1405.2 1525.8 1404.5C1531.2 1403.9 1528.5 1404.2 1533.8 1403.5C1539.1 1402.8 1536.5 1403.2 1541.8 1402.4C1547.0 1401.7 1544.4 1402.0 1549.7 1401.2C1555.0 1400.4 1552.3 1400.9 1557.6 1400.0C1562.9 1399.2 1560.3 1399.6 1565.5 1398.7C1570.8 1397.9 1568.2 1398.3 1573.5 1397.4C1578.7 1396.5 1576.1 1397.0 1581.4 1396.1C1586.6 1395.1 1584.0 1395.6 1589.3 1394.7C1594.5 1393.7 1591.9 1394.2 1597.2 1393.2C1602.4 1392.3 1599.8 1392.7 1605.1 1391.8C1610.3 1390.8 1607.7 1391.3 1612.9 1390.3C1618.2 1389.3 1615.6 1389.8 1620.8 1388.8C1626.1 1387.8 1623.5 1388.3 1628.7 1387.3C1634.0 1386.3 1631.3 1386.8 1636.6 1385.8C1641.9 1384.8 1639.2 1385.3 1644.5 1384.3C1649.7 1383.3 1647.1 1383.8 1652.4 1382.8C1657.6 1381.8 1655.0 1382.3 1660.2 1381.3C1665.5 1380.3 1662.9 1380.8 1668.1 1379.8C1673.4 1378.9 1670.8 1379.3 1676.0 1378.4C1681.3 1377.4 1678.7 1377.9 1683.9 1376.9C1689.2 1376.0 1686.6 1376.5 1691.8 1375.5C1697.1 1374.6 1694.5 1375.0 1699.7 1374.1C1705.0 1373.2 1702.4 1373.7 1707.6 1372.8C1712.9 1371.9 1710.3 1372.3 1715.5 1371.4C1720.8 1370.6 1718.2 1371.0 1723.5 1370.1C1728.7 1369.3 1726.1 1369.7 1731.4 1368.9C1736.7 1368.1 1734.0 1368.5 1739.3 1367.7C1744.6 1366.9 1742.0 1367.3 1747.3 1366.5C1752.6 1365.8 1749.9 1366.1 1755.2 1365.4C1760.5 1364.7 1757.9 1365.1 1763.2 1364.4C1768.5 1363.7 1765.8 1364.0 1771.1 1363.4C1776.4 1362.7 1773.8 1363.0 1779.1 1362.4C1784.4 1361.8 1781.8 1362.1 1787.1 1361.5C1792.4 1360.9 1789.7 1361.2 1795.1 1360.7C1800.4 1360.1 1797.7 1360.4 1803.0 1359.8C1808.4 1359.3 1805.7 1359.6 1811.0 1359.0C1816.3 1358.5 1813.7 1358.8 1819.0 1358.3C1824.3 1357.8 1821.7 1358.0 1827.0 1357.6C1832.3 1357.1 1829.7 1357.3 1835.0 1356.9C1840.3 1356.4 1837.7 1356.6 1843.0 1356.2C1848.3 1355.7 1845.7 1356.0 1851.0 1355.5C1856.3 1355.1 1853.7 1355.3 1859.0 1354.9C1864.3 1354.5 1861.7 1354.7 1867.0 1354.3C1872.3 1353.8 1869.7 1354.0 1875.0 1353.6C1880.3 1353.2 1877.7 1353.4 1883.0 1353.0C1888.3 1352.6 1885.7 1352.8 1891.0 1352.4C1896.3 1352.0 1893.7 1352.2 1899.0 1351.8C1904.3 1351.4 1901.7 1351.6 1907.0 1351.1C1912.3 1350.7 1909.7 1350.9 1915.0 1350.5C1920.3 1350.1 1917.7 1350.3 1923.0 1349.9C1928.3 1349.5 1925.7 1349.7 1931.0 1349.3C1936.3 1348.9 1933.7 1349.1 1939.0 1348.7C1944.3 1348.3 1941.7 1348.5 1947.0 1348.1C1952.3 1347.7 1949.7 1347.9 1955.0 1347.5C1960.3 1347.0 1957.7 1347.2 1963.0 1346.8C1968.3 1346.4 1965.7 1346.6 1971.0 1346.2C1976.3 1345.8 1973.7 1346.0 1979.0 1345.6C1984.3 1345.2 1981.7 1345.4 1987.0 1345.0C1992.3 1344.6 1989.7 1344.8 1995.0 1344.4C2000.3 1344.0 1997.7 1344.2 2003.0 1343.8C2008.3 1343.3 2005.7 1343.5 2011.0 1343.1C2016.3 1342.7 2013.7 1342.9 2019.0 1342.5C2024.3 1342.1 2021.7 1342.3 2027.0 1341.9C2032.3 1341.5 2029.7 1341.7 2035.0 1341.3C2040.3 1340.9 2037.7 1341.1 2043.0 1340.7C2048.3 1340.3 2045.7 1340.5 2051.0 1340.0C2056.3 1339.6 2053.7 1339.8 2059.0 1339.4C2064.3 1339.0 2061.7 1339.2 2067.0 1338.8C2072.3 1338.4 2069.7 1338.6 2075.0 1338.2C2080.3 1337.8 2077.7 1338.0 2083.0 1337.6C2088.3 1337.1 2085.7 1337.3 2091.0 1336.9C2096.3 1336.5 2093.7 1336.7 2099.0 1336.3C2104.3 1335.9 2101.7 1336.1 2107.0 1335.7C2112.3 1335.3 2109.7 1335.5 2115.0 1335.0C2120.3 1334.6 2117.7 1334.8 2123.0 1334.4C2128.3 1334.0 2125.7 1334.2 2131.0 1333.8C2136.3 1333.4 2133.7 1333.6 2139.0 1333.1C2144.3 1332.7 2141.7 1332.9 2147.0 1332.5C2152.3 1332.1 2149.7 1332.3 2155.0 1331.9C2160.3 1331.4 2157.7 1331.7 2163.0 1331.2C2168.3 1330.8 2165.7 1331.0 2171.0 1330.6C2176.3 1330.2 2173.7 1330.4 2179.0 1329.9C2184.3 1329.5 2181.7 1329.7 2187.0 1329.3C2192.3 1328.9 2189.7 1329.1 2195.0 1328.6C2200.3 1328.2 2197.7 1328.4 2203.0 1328.0C2208.3 1327.6 2205.7 1327.8 2211.0 1327.3C2216.3 1326.9 2213.7 1327.1 2219.0 1326.7C2224.3 1326.2 2221.7 1326.5 2227.0 1326.0C2232.3 1325.6 2229.7 1325.8 2235.0 1325.4C2240.3 1324.9 2237.7 1325.1 2243.0 1324.7C2248.3 1324.3 2245.7 1324.5 2251.0 1324.0C2256.3 1323.6 2253.7 1323.8 2259.0 1323.4C2264.3 1322.9 2261.7 1323.1 2267.0 1322.7C2272.3 1322.2 2269.6 1322.5 2275.0 1322.0C2280.3 1321.6 2277.6 1321.8 2283.0 1321.3C2288.3 1320.9 2285.6 1321.1 2291.0 1320.6C2296.3 1320.2 2293.6 1320.4 2299.0 1320.0C2304.3 1319.5 2301.6 1319.7 2307.0 1319.3C2312.3 1318.8 2309.6 1319.0 2315.0 1318.6C2320.3 1318.1 2317.6 1318.3 2322.9 1317.9C2328.3 1317.4 2325.6 1317.6 2330.9 1317.2C2336.3 1316.7 2333.6 1316.9 2338.9 1316.5C2344.3 1316.0 2341.6 1316.2 2346.9 1315.8C2352.3 1315.3 2349.6 1315.5 2354.9 1315.0C2360.3 1314.6 2357.6 1314.8 2362.9 1314.3C2368.2 1313.8 2368.2 1313.8 2370.9 1313.6" fill="none" stroke="#FFC000" stroke-width="9.4" stroke-linecap="round" stroke-linejoin="round" stroke-dasharray="8.8 17.24" stroke-dashoffset="-4.7"/>
<path d="M311.6 838.1L365.6 838.1C365.6 842.4 364.9 839.5 365.5 851.0C366.1 862.5 366.2 860.5 367.3 872.6C368.4 884.7 366.0 871.2 368.8 887.2C371.5 903.2 371.1 893.6 375.6 920.5C380.1 947.4 378.4 936.2 382.4 968.0C386.4 999.8 384.0 986.7 387.5 1016.0C391.0 1045.3 389.1 1027.0 393.0 1056.0C396.9 1085.0 394.8 1071.7 399.3 1103.0C403.8 1134.3 401.4 1119.5 406.5 1150.0C411.6 1180.5 409.8 1169.6 414.5 1194.6C419.2 1219.6 416.3 1207.9 420.5 1225.0C424.7 1242.1 424.8 1239.0 427.0 1246.0C429.3 1247.2 429.2 1249.0 433.9 1249.5C438.6 1250.0 436.2 1249.1 441.0 1247.5C445.8 1245.9 441.6 1248.5 448.2 1244.6C454.8 1240.7 454.5 1240.4 460.7 1235.7C466.9 1231.0 462.8 1234.0 466.8 1230.5C470.8 1227.0 468.8 1228.7 472.8 1225.1C476.7 1221.5 474.8 1223.4 478.6 1219.7C482.5 1216.0 480.6 1217.9 484.4 1214.1C488.2 1210.4 486.3 1212.3 490.1 1208.4C493.8 1204.6 492.0 1206.6 495.6 1202.7C499.3 1198.8 497.5 1200.7 501.1 1196.8C504.7 1192.9 502.9 1194.8 506.5 1190.8C510.0 1186.8 508.2 1188.9 511.7 1184.8C515.2 1180.7 513.5 1182.8 516.9 1178.7C520.3 1174.6 518.6 1176.6 522.0 1172.5C525.3 1168.3 523.7 1170.4 527.0 1166.2C530.3 1162.0 528.6 1164.1 531.9 1159.8C535.1 1155.6 533.5 1157.7 536.7 1153.4C539.9 1149.2 538.3 1151.3 541.4 1147.0C544.6 1142.7 543.0 1144.8 546.1 1140.5C549.2 1136.1 547.7 1138.3 550.7 1133.9C553.8 1129.5 552.3 1131.7 555.3 1127.3C558.3 1122.9 555.3 1127.4 559.8 1120.7C564.3 1114.0 562.8 1116.3 568.7 1107.3C574.5 1098.4 571.6 1102.9 577.4 1093.9C583.2 1084.9 580.3 1089.4 586.1 1080.4C591.9 1071.5 589.0 1075.9 594.8 1067.0C600.6 1058.0 597.7 1062.5 603.6 1053.5C609.4 1044.6 606.5 1049.0 612.4 1040.2C618.4 1031.3 615.4 1035.7 621.5 1027.0C627.6 1018.2 624.5 1022.5 630.8 1013.9C637.1 1005.3 633.9 1009.5 640.4 1001.1C646.9 992.6 643.6 996.8 650.4 988.5C657.1 980.2 653.7 984.3 660.7 976.3C667.8 968.3 664.2 972.2 671.6 964.5C679.0 956.8 675.2 960.5 683.0 953.2C690.7 945.8 688.9 947.7 694.9 942.5C700.9 937.2 696.9 940.7 701.1 937.4C705.2 934.0 703.1 935.6 707.4 932.4C711.7 929.2 709.5 930.8 713.9 927.7C718.2 924.6 716.0 926.1 720.5 923.2C725.0 920.2 722.7 921.7 727.2 918.9C731.8 916.0 729.5 917.4 734.1 914.7C738.7 912.0 736.4 913.4 741.1 910.8C745.8 908.3 743.5 909.5 748.2 907.1C753.0 904.7 750.6 905.9 755.4 903.6C760.3 901.4 757.8 902.4 762.8 900.3C767.7 898.2 765.2 899.2 770.2 897.3C775.1 895.3 772.6 896.3 777.7 894.5C782.7 892.6 780.2 893.5 785.3 891.9C790.3 890.2 787.8 891.0 792.9 889.5C798.0 888.0 795.5 888.7 800.6 887.4C805.8 886.0 803.2 886.7 808.4 885.5C813.6 884.3 811.0 884.8 816.3 883.8C821.5 882.8 818.9 883.3 824.2 882.5C829.5 881.6 826.8 882.0 832.1 881.3C837.4 880.7 834.8 881.0 840.1 880.5C845.4 880.0 842.7 880.2 848.1 879.8C853.4 879.5 850.7 879.6 856.1 879.4C861.4 879.2 858.8 879.3 864.1 879.2C869.4 879.1 866.8 879.1 872.1 879.2C877.5 879.2 874.8 879.2 880.1 879.3C885.5 879.4 882.8 879.3 888.1 879.6C893.5 879.8 890.8 879.7 896.1 880.0C901.5 880.3 898.8 880.1 904.1 880.5C909.5 880.8 906.8 880.6 912.1 881.1C917.5 881.5 914.8 881.3 920.1 881.7C925.5 882.2 922.8 882.0 928.1 882.4C933.4 882.9 930.8 882.7 936.1 883.2C941.4 883.7 938.8 883.5 944.1 884.0C949.4 884.5 946.7 884.2 952.1 884.7C957.4 885.3 954.7 885.0 960.0 885.5C965.4 886.0 962.7 885.8 968.0 886.2C973.3 886.7 970.7 886.5 976.0 886.9C981.3 887.4 978.7 887.2 984.0 887.6C989.3 888.1 986.7 887.9 992.0 888.3C997.3 888.7 994.6 888.5 1000.0 888.9C1005.3 889.3 1002.6 889.1 1008.0 889.5C1013.3 889.9 1010.6 889.7 1016.0 890.1C1021.3 890.5 1018.6 890.3 1024.0 890.7C1029.3 891.1 1026.6 890.9 1032.0 891.2C1037.3 891.6 1034.6 891.4 1040.0 891.8C1045.3 892.1 1042.6 891.9 1048.0 892.3C1053.3 892.6 1050.6 892.4 1056.0 892.7C1061.3 893.1 1058.6 892.9 1064.0 893.2C1069.3 893.5 1066.6 893.4 1072.0 893.6C1077.3 893.9 1074.6 893.8 1080.0 894.1C1085.3 894.3 1082.6 894.2 1088.0 894.5C1093.3 894.7 1090.7 894.6 1096.0 894.8C1101.3 895.1 1098.7 895.0 1104.0 895.2C1109.3 895.4 1106.7 895.3 1112.0 895.5C1117.4 895.8 1114.7 895.7 1120.0 895.9C1125.4 896.1 1122.7 896.0 1128.0 896.2C1133.4 896.4 1130.7 896.3 1136.0 896.5C1141.4 896.6 1138.7 896.6 1144.1 896.7C1149.4 896.9 1146.7 896.8 1152.1 897.0C1157.4 897.1 1154.7 897.1 1160.1 897.2C1165.4 897.4 1162.8 897.3 1168.1 897.4C1173.4 897.6 1170.8 897.5 1176.1 897.7C1181.5 897.8 1178.8 897.7 1184.1 897.8C1189.5 898.0 1186.8 897.9 1192.1 898.0C1197.5 898.1 1194.8 898.1 1200.2 898.2C1205.5 898.3 1202.8 898.2 1208.2 898.3C1213.5 898.4 1210.8 898.4 1216.2 898.5C1221.5 898.5 1218.9 898.5 1224.2 898.6C1229.5 898.7 1226.9 898.6 1232.2 898.7C1237.6 898.8 1234.9 898.7 1240.2 898.8C1245.6 898.8 1242.9 898.8 1248.3 898.9C1253.6 898.9 1250.9 898.9 1256.3 898.9C1261.6 899.0 1258.9 899.0 1264.3 899.0C1269.6 899.0 1267.0 899.0 1272.3 899.0C1277.6 899.1 1275.0 899.1 1280.3 899.1C1285.7 899.1 1283.0 899.1 1288.3 899.1C1293.7 899.1 1291.0 899.1 1296.4 899.1C1301.7 899.1 1299.0 899.1 1304.4 899.1C1309.7 899.1 1307.0 899.1 1312.4 899.1C1317.7 899.1 1315.1 899.1 1320.4 899.1C1325.7 899.1 1323.1 899.1 1328.4 899.1C1333.8 899.1 1331.1 899.1 1336.4 899.1C1341.8 899.1 1339.1 899.1 1344.5 899.1C1349.8 899.0 1347.1 899.1 1352.5 899.0C1357.8 899.0 1355.1 899.0 1360.5 899.0C1365.8 899.0 1363.2 899.0 1368.5 898.9C1373.8 898.9 1371.2 898.9 1376.5 898.9C1381.9 898.8 1379.2 898.9 1384.5 898.8C1389.9 898.8 1387.2 898.8 1392.6 898.8C1397.9 898.7 1395.2 898.7 1400.6 898.7C1405.9 898.6 1403.2 898.7 1408.6 898.6C1413.9 898.6 1411.3 898.6 1416.6 898.5C1421.9 898.5 1419.3 898.5 1424.6 898.5C1430.0 898.4 1427.3 898.4 1432.6 898.4C1438.0 898.3 1435.3 898.3 1440.7 898.3C1446.0 898.2 1443.3 898.3 1448.7 898.2C1454.0 898.1 1451.3 898.2 1456.7 898.1C1462.0 898.1 1459.4 898.1 1464.7 898.0C1470.0 898.0 1467.4 898.0 1472.7 897.9C1478.1 897.9 1475.4 897.9 1480.7 897.8C1486.1 897.8 1483.4 897.8 1488.8 897.7C1494.1 897.7 1491.4 897.7 1496.8 897.7C1502.1 897.6 1499.4 897.6 1504.8 897.6C1510.1 897.5 1507.5 897.5 1512.8 897.5C1518.1 897.4 1515.5 897.4 1520.8 897.4C1526.2 897.3 1523.5 897.4 1528.8 897.3C1534.2 897.2 1531.5 897.3 1536.9 897.2C1542.2 897.2 1539.5 897.2 1544.9 897.1C1550.2 897.1 1547.5 897.1 1552.9 897.1C1558.2 897.0 1555.6 897.0 1560.9 897.0C1566.2 896.9 1563.6 897.0 1568.9 896.9C1574.3 896.9 1571.6 896.9 1576.9 896.9C1582.3 896.8 1579.6 896.8 1584.9 896.8C1590.3 896.8 1587.6 896.8 1593.0 896.7C1598.3 896.7 1595.6 896.7 1601.0 896.7C1606.3 896.7 1603.7 896.7 1609.0 896.6C1614.3 896.6 1611.7 896.6 1617.0 896.6C1622.4 896.6 1619.7 896.6 1625.0 896.5C1630.4 896.5 1627.7 896.5 1633.1 896.5C1638.4 896.5 1635.7 896.5 1641.1 896.5C1646.4 896.5 1643.7 896.5 1649.1 896.4C1654.4 896.4 1651.8 896.4 1657.1 896.4C1662.4 896.4 1659.8 896.4 1665.1 896.4C1670.5 896.4 1667.8 896.4 1673.1 896.4C1678.5 896.3 1675.8 896.4 1681.2 896.3C1686.5 896.3 1683.8 896.3 1689.2 896.3C1694.5 896.3 1691.8 896.3 1697.2 896.3C1702.5 896.3 1699.9 896.3 1705.2 896.3C1710.5 896.3 1707.9 896.3 1713.2 896.3C1718.6 896.3 1715.9 896.3 1721.2 896.3C1726.6 896.3 1723.9 896.3 1729.3 896.3C1734.6 896.3 1731.9 896.3 1737.3 896.3C1742.6 896.3 1739.9 896.3 1745.3 896.3C1750.6 896.3 1748.0 896.3 1753.3 896.3C1758.6 896.3 1756.0 896.3 1761.3 896.3C1766.7 896.3 1764.0 896.3 1769.3 896.3C1774.7 896.3 1772.0 896.3 1777.4 896.3C1782.7 896.3 1780.0 896.3 1785.4 896.3C1790.7 896.3 1788.0 896.3 1793.4 896.3C1798.7 896.3 1796.1 896.3 1801.4 896.3C1806.7 896.3 1804.1 896.3 1809.4 896.3C1814.8 896.4 1812.1 896.3 1817.4 896.4C1822.8 896.4 1820.1 896.4 1825.5 896.4C1830.8 896.4 1828.1 896.4 1833.5 896.4C1838.8 896.4 1836.1 896.4 1841.5 896.4C1846.8 896.4 1844.2 896.4 1849.5 896.4C1854.9 896.5 1852.2 896.4 1857.5 896.5C1862.9 896.5 1860.2 896.5 1865.5 896.5C1870.9 896.5 1868.2 896.5 1873.6 896.5C1878.9 896.5 1876.2 896.5 1881.6 896.5C1886.9 896.6 1884.2 896.5 1889.6 896.6C1894.9 896.6 1892.3 896.6 1897.6 896.6C1903.0 896.6 1900.3 896.6 1905.6 896.6C1911.0 896.6 1908.3 896.6 1913.6 896.7C1919.0 896.7 1916.3 896.7 1921.7 896.7C1927.0 896.7 1924.3 896.7 1929.7 896.7C1935.0 896.7 1932.3 896.7 1937.7 896.8C1943.0 896.8 1940.4 896.8 1945.7 896.8C1951.1 896.8 1948.4 896.8 1953.7 896.8C1959.1 896.8 1956.4 896.8 1961.7 896.8C1967.1 896.9 1964.4 896.9 1969.8 896.9C1975.1 896.9 1972.4 896.9 1977.8 896.9C1983.1 896.9 1980.4 896.9 1985.8 896.9C1991.1 897.0 1988.5 897.0 1993.8 897.0C1999.2 897.0 1996.5 897.0 2001.8 897.0C2007.2 897.0 2004.5 897.0 2009.8 897.0C2015.2 897.1 2012.5 897.1 2017.9 897.1C2023.2 897.1 2020.5 897.1 2025.9 897.1C2031.2 897.1 2028.5 897.1 2033.9 897.1C2039.2 897.2 2036.6 897.1 2041.9 897.2C2047.3 897.2 2044.6 897.2 2049.9 897.2C2055.3 897.2 2052.6 897.2 2057.9 897.2C2063.3 897.2 2060.6 897.2 2066.0 897.3C2071.3 897.3 2068.6 897.3 2074.0 897.3C2079.3 897.3 2076.6 897.3 2082.0 897.3C2087.3 897.3 2084.7 897.3 2090.0 897.3C2095.4 897.4 2092.7 897.3 2098.0 897.4C2103.4 897.4 2100.7 897.4 2106.0 897.4C2111.4 897.4 2108.7 897.4 2114.1 897.4C2119.4 897.4 2116.7 897.4 2122.1 897.4C2127.4 897.4 2124.8 897.4 2130.1 897.4C2135.4 897.5 2132.8 897.5 2138.1 897.5C2143.5 897.5 2140.8 897.5 2146.1 897.5C2151.5 897.5 2148.8 897.5 2154.1 897.5C2159.5 897.5 2156.8 897.5 2162.2 897.5C2167.5 897.5 2164.8 897.5 2170.2 897.5C2175.5 897.5 2172.9 897.5 2178.2 897.5C2183.5 897.5 2180.9 897.5 2186.2 897.5C2191.6 897.5 2188.9 897.5 2194.2 897.5C2199.6 897.5 2196.9 897.5 2202.2 897.5C2207.6 897.5 2204.9 897.5 2210.3 897.5C2215.6 897.5 2212.9 897.5 2218.3 897.5C2223.6 897.5 2221.0 897.5 2226.3 897.5C2231.6 897.5 2229.0 897.5 2234.3 897.5C2239.7 897.5 2237.0 897.5 2242.3 897.5C2247.7 897.5 2245.0 897.5 2250.3 897.5C2255.7 897.5 2253.0 897.5 2258.4 897.5C2263.7 897.5 2261.0 897.5 2266.4 897.5C2271.7 897.5 2269.1 897.5 2274.4 897.5C2279.7 897.5 2277.1 897.5 2282.4 897.5C2287.8 897.4 2285.1 897.4 2290.4 897.4C2295.8 897.4 2293.1 897.4 2298.4 897.4C2303.8 897.4 2301.1 897.4 2306.5 897.4C2311.8 897.3 2309.1 897.4 2314.5 897.3C2319.8 897.3 2317.2 897.3 2322.5 897.3C2327.8 897.3 2325.2 897.3 2330.5 897.3C2335.9 897.2 2333.2 897.2 2338.5 897.2C2343.9 897.2 2341.2 897.2 2346.5 897.2C2351.9 897.1 2349.2 897.1 2354.6 897.1C2359.9 897.1 2357.2 897.1 2362.6 897.1C2367.9 897.0 2367.9 897.0 2370.6 897.0" fill="none" stroke="#FF0000" stroke-width="9.4" stroke-linecap="round" stroke-linejoin="round"/>
<path d="M1900 270.8L2370.6 271.5" fill="none" stroke="#FF0000" stroke-width="9.4" stroke-linecap="round" stroke-dasharray="8.8 17.24" stroke-dashoffset="16.1"/>
<path d="M311.6 838.1L365.6 838.1C365.6 842.4 364.9 839.5 365.5 851.0C366.1 862.5 366.2 860.5 367.3 872.6C368.4 884.7 366.0 871.2 368.8 887.2C371.5 903.2 371.1 893.6 375.6 920.5C380.1 947.4 378.4 936.2 382.4 968.0C386.4 999.8 384.0 986.7 387.5 1016.0C391.0 1045.3 389.1 1027.0 393.0 1056.0C396.9 1085.0 394.8 1071.7 399.3 1103.0C403.8 1134.3 401.6 1119.7 406.5 1150.0C411.4 1180.3 409.7 1170.0 414.0 1194.0C418.3 1218.0 415.2 1205.3 419.5 1222.0C423.8 1238.7 422.2 1233.0 427.0 1244.0C431.8 1255.0 429.7 1249.8 434.0 1255.0C438.3 1260.2 435.7 1261.2 440.0 1259.5C444.3 1257.8 443.3 1258.5 447.0 1250.0C450.7 1241.5 448.2 1245.0 451.0 1234.0C453.8 1223.0 452.5 1228.9 455.4 1217.0C458.3 1205.1 457.1 1213.1 459.8 1198.2C462.5 1183.3 461.0 1189.6 463.4 1172.3C465.8 1155.0 464.6 1164.0 467.0 1146.4C469.4 1128.8 468.1 1137.1 470.5 1119.6C472.9 1102.1 471.7 1110.7 474.1 1093.8C476.5 1076.9 475.1 1085.5 477.7 1068.8C480.3 1052.1 479.4 1060.8 481.8 1043.8C484.2 1026.8 482.5 1035.6 484.8 1017.9C487.1 1000.2 487.2 1002.4 488.8 990.6C490.5 978.9 489.2 988.0 489.8 982.7C490.5 977.4 490.2 980.1 490.9 974.8C491.6 969.5 491.2 972.1 492.0 966.8C492.7 961.5 492.3 964.2 493.1 958.9C493.8 953.6 493.4 956.2 494.2 950.9C494.9 945.7 494.5 948.3 495.3 943.0C496.1 937.7 495.7 940.4 496.5 935.1C497.2 929.8 496.8 932.4 497.6 927.2C498.4 921.9 498.0 924.5 498.8 919.2C499.6 913.9 499.2 916.6 500.0 911.3C500.8 906.0 500.4 908.7 501.3 903.4C502.1 898.1 501.7 900.7 502.5 895.5C503.3 890.2 502.9 892.8 503.7 887.6C504.6 882.3 504.2 884.9 505.0 879.6C505.8 874.4 505.4 877.0 506.3 871.7C507.1 866.5 506.7 869.1 507.5 863.8C508.4 858.5 508.0 861.2 508.8 855.9C509.7 850.6 509.2 853.3 510.1 848.0C511.0 842.7 510.5 845.4 511.4 840.1C512.2 834.8 511.8 837.4 512.7 832.2C513.5 826.9 513.1 829.5 514.0 824.3C514.8 819.0 514.4 821.6 515.3 816.4C516.1 811.1 515.7 813.7 516.6 808.5C517.4 803.2 517.0 805.8 517.8 800.5C518.7 795.3 518.3 797.9 519.1 792.6C520.0 787.4 519.6 790.0 520.4 784.7C521.3 779.5 520.8 782.1 521.7 776.8C522.6 771.5 522.1 774.2 523.0 768.9C523.8 763.6 523.4 766.3 524.3 761.0C525.1 755.7 524.7 758.4 525.6 753.1C526.4 747.8 526.0 750.5 526.9 745.2C527.7 739.9 527.3 742.5 528.2 737.3C529.0 732.0 528.6 734.6 529.5 729.4C530.3 724.1 529.9 726.7 530.8 721.5C531.6 716.2 531.2 718.8 532.1 713.6C533.0 708.3 532.5 710.9 533.4 705.7C534.3 700.4 533.9 703.0 534.7 697.7C535.6 692.5 535.2 695.1 536.1 689.8C537.0 684.6 536.5 687.2 537.4 681.9C538.3 676.7 537.9 679.3 538.8 674.1C539.7 668.8 539.2 671.4 540.1 666.2C541.1 660.9 540.6 663.5 541.5 658.3C542.4 653.0 542.0 655.6 542.9 650.4C543.8 645.1 543.4 647.7 544.3 642.5C545.3 637.2 544.8 639.9 545.7 634.6C546.7 629.3 546.2 632.0 547.2 626.7C548.1 621.5 547.6 624.1 548.6 618.8C549.6 613.6 549.1 616.2 550.1 610.9C551.1 605.7 550.6 608.3 551.5 603.1C552.5 597.8 552.0 600.4 553.0 595.2C554.0 590.0 553.5 592.6 554.6 587.3C555.6 582.1 555.1 584.7 556.1 579.5C557.1 574.2 556.6 576.8 557.6 571.6C558.7 566.4 556.5 576.8 559.2 563.7C561.9 550.7 561.3 553.3 565.7 532.4C570.2 511.5 567.9 521.9 572.6 501.1C577.3 480.2 574.9 490.6 579.9 469.9C585.0 449.1 583.1 456.9 587.7 438.8C592.4 420.7 589.7 431.0 593.9 415.5C598.1 400.1 596.0 407.8 600.4 392.4C604.8 377.0 602.5 384.7 607.2 369.3C611.9 354.0 609.5 361.6 614.4 346.4C619.2 331.1 616.7 338.7 621.9 323.5C627.0 308.4 624.3 315.9 629.8 300.8C635.2 285.8 633.3 290.7 638.3 278.4C643.3 266.0 640.1 273.3 644.7 263.7C649.2 254.0 646.8 258.7 651.9 249.4C657.1 240.0 654.3 244.5 660.2 235.7C666.1 226.8 662.9 231.0 669.7 222.7C676.4 214.5 672.8 218.3 680.5 210.9C688.1 203.4 686.3 205.4 692.5 200.4C698.8 195.3 694.6 198.7 699.1 195.7C703.5 192.8 701.3 194.2 705.9 191.6C710.6 189.0 708.2 190.2 713.1 188.0C718.0 185.9 715.5 186.8 720.6 185.1C725.6 183.4 723.1 184.1 728.3 182.9C733.5 181.7 730.9 182.2 736.1 181.4C741.4 180.7 738.8 180.9 744.1 180.7C749.4 180.4 746.8 180.4 752.1 180.6C757.5 180.8 754.8 180.6 760.1 181.2C765.4 181.7 762.8 181.4 768.0 182.3C773.3 183.2 770.7 182.7 775.9 183.9C781.1 185.1 778.5 184.5 783.7 185.9C788.8 187.4 786.2 186.6 791.3 188.2C796.4 189.9 793.9 189.0 798.9 190.9C803.9 192.7 801.4 191.7 806.4 193.7C811.4 195.6 808.9 194.7 813.8 196.7C818.7 198.8 816.3 197.7 821.2 199.9C826.1 202.0 823.6 200.9 828.5 203.1C833.4 205.3 830.9 204.2 835.8 206.4C840.7 208.6 838.2 207.5 843.1 209.7C848.0 211.9 845.5 210.8 850.4 213.0C855.3 215.2 852.8 214.1 857.7 216.3C862.6 218.5 860.1 217.4 865.0 219.6C869.9 221.8 867.4 220.7 872.3 222.9C877.2 225.0 874.8 224.0 879.7 226.1C884.6 228.2 882.1 227.1 887.1 229.2C892.0 231.3 889.5 230.3 894.4 232.3C899.4 234.3 896.9 233.3 901.9 235.3C906.8 237.3 904.3 236.3 909.3 238.3C914.3 240.2 911.8 239.2 916.8 241.1C921.8 243.0 919.3 242.0 924.3 243.8C929.4 245.6 926.9 244.8 931.9 246.5C937.0 248.2 934.4 247.4 939.5 249.0C944.6 250.7 942.0 249.9 947.1 251.5C952.2 253.1 949.7 252.3 954.8 253.9C959.9 255.4 957.3 254.6 962.5 256.1C967.6 257.6 965.0 256.9 970.2 258.3C975.4 259.7 972.8 259.0 977.9 260.3C983.1 261.7 980.5 261.0 985.7 262.3C990.9 263.5 988.3 262.9 993.5 264.1C998.7 265.3 996.1 264.7 1001.3 265.9C1006.6 267.0 1003.9 266.4 1009.2 267.5C1014.4 268.6 1011.8 268.0 1017.0 269.0C1022.3 270.0 1019.7 269.5 1024.9 270.4C1030.2 271.3 1027.6 270.9 1032.8 271.7C1038.1 272.6 1035.5 272.2 1040.8 272.9C1046.1 273.7 1043.4 273.3 1048.7 274.0C1054.0 274.7 1051.4 274.3 1056.7 274.9C1062.0 275.5 1059.3 275.2 1064.6 275.8C1070.0 276.3 1067.3 276.0 1072.6 276.5C1077.9 276.9 1075.3 276.7 1080.6 277.0C1085.9 277.4 1083.3 277.2 1088.6 277.5C1093.9 277.7 1091.3 277.6 1096.6 277.8C1102.0 278.0 1099.3 277.9 1104.6 278.0C1110.0 278.1 1107.3 278.1 1112.6 278.1C1118.0 278.2 1115.3 278.2 1120.7 278.1C1126.0 278.1 1123.3 278.1 1128.7 278.1C1134.0 278.0 1131.3 278.0 1136.7 277.9C1142.0 277.8 1139.4 277.9 1144.7 277.7C1150.0 277.6 1147.4 277.6 1152.7 277.5C1158.0 277.3 1155.4 277.4 1160.7 277.2C1166.0 277.0 1163.4 277.1 1168.7 276.8C1174.1 276.6 1171.4 276.7 1176.7 276.5C1182.1 276.3 1179.4 276.4 1184.7 276.2C1190.1 275.9 1187.4 276.0 1192.7 275.8C1198.1 275.6 1195.4 275.7 1200.7 275.5C1206.1 275.2 1203.4 275.3 1208.7 275.1C1214.1 274.9 1211.4 275.0 1216.8 274.8C1222.1 274.6 1219.4 274.7 1224.8 274.5C1230.1 274.3 1227.4 274.4 1232.8 274.2C1238.1 274.0 1235.4 274.1 1240.8 273.9C1246.1 273.7 1243.4 273.8 1248.8 273.6C1254.1 273.4 1251.5 273.5 1256.8 273.3C1262.1 273.2 1259.5 273.2 1264.8 273.1C1270.1 272.9 1267.5 273.0 1272.8 272.8C1278.1 272.7 1275.5 272.7 1280.8 272.6C1286.2 272.4 1283.5 272.5 1288.8 272.3C1294.2 272.2 1291.5 272.3 1296.8 272.1C1302.2 272.0 1299.5 272.1 1304.9 271.9C1310.2 271.8 1307.5 271.9 1312.9 271.7C1318.2 271.6 1315.5 271.7 1320.9 271.5C1326.2 271.4 1323.5 271.5 1328.9 271.4C1334.2 271.3 1331.6 271.3 1336.9 271.2C1342.2 271.1 1339.6 271.1 1344.9 271.1C1350.2 271.0 1347.6 271.0 1352.9 270.9C1358.3 270.8 1355.6 270.9 1360.9 270.8C1366.3 270.7 1363.6 270.8 1368.9 270.7C1374.3 270.6 1371.6 270.6 1377.0 270.6C1382.3 270.5 1379.6 270.5 1385.0 270.5C1390.3 270.4 1387.6 270.5 1393.0 270.4C1398.3 270.4 1395.7 270.4 1401.0 270.3C1406.3 270.3 1403.7 270.3 1409.0 270.3C1414.4 270.2 1411.7 270.3 1417.0 270.2C1422.4 270.2 1419.7 270.2 1425.0 270.2C1430.4 270.1 1427.7 270.2 1433.0 270.1C1438.4 270.1 1435.7 270.1 1441.1 270.1C1446.4 270.1 1443.7 270.1 1449.1 270.1C1454.4 270.1 1451.7 270.1 1457.1 270.1C1462.4 270.1 1459.8 270.1 1465.1 270.0C1470.4 270.0 1467.8 270.0 1473.1 270.0C1478.5 270.0 1475.8 270.0 1481.1 270.0C1486.5 270.0 1483.8 270.0 1489.1 270.0C1494.5 270.0 1491.8 270.0 1497.2 270.0C1502.5 270.1 1499.8 270.0 1505.2 270.1C1510.5 270.1 1507.8 270.1 1513.2 270.1C1518.5 270.1 1515.9 270.1 1521.2 270.1C1526.5 270.1 1523.9 270.1 1529.2 270.1C1534.5 270.1 1531.9 270.1 1537.2 270.1C1542.6 270.1 1539.9 270.1 1545.2 270.1C1550.6 270.2 1547.9 270.1 1553.2 270.2C1558.6 270.2 1555.9 270.2 1561.3 270.2C1566.6 270.2 1563.9 270.2 1569.3 270.2C1574.6 270.2 1571.9 270.2 1577.3 270.2C1582.6 270.2 1580.0 270.2 1585.3 270.2C1590.6 270.3 1588.0 270.2 1593.3 270.3C1598.7 270.3 1596.0 270.3 1601.3 270.3C1606.7 270.3 1604.0 270.3 1609.3 270.3C1614.7 270.3 1612.0 270.3 1617.4 270.3C1622.7 270.3 1620.0 270.3 1625.4 270.3C1630.7 270.3 1628.0 270.3 1633.4 270.3C1638.7 270.4 1636.1 270.4 1641.4 270.4C1646.7 270.4 1644.1 270.4 1649.4 270.4C1654.7 270.4 1652.1 270.4 1657.4 270.4C1662.8 270.4 1660.1 270.4 1665.4 270.4C1670.8 270.4 1668.1 270.4 1673.4 270.4C1678.8 270.4 1676.1 270.4 1681.5 270.4C1686.8 270.5 1684.1 270.5 1689.5 270.5C1694.8 270.5 1692.1 270.5 1697.5 270.5C1702.8 270.5 1700.2 270.5 1705.5 270.5C1710.8 270.5 1708.2 270.5 1713.5 270.5C1718.9 270.5 1716.2 270.5 1721.5 270.5C1726.9 270.5 1724.2 270.5 1729.5 270.5C1734.9 270.6 1732.2 270.5 1737.6 270.6C1742.9 270.6 1740.2 270.6 1745.6 270.6C1750.9 270.6 1748.2 270.6 1753.6 270.6C1758.9 270.6 1756.2 270.6 1761.6 270.6C1766.9 270.6 1764.3 270.6 1769.6 270.6C1774.9 270.6 1772.3 270.6 1777.6 270.6C1783.0 270.6 1780.3 270.6 1785.6 270.6C1791.0 270.6 1788.3 270.6 1793.6 270.7C1799.0 270.7 1796.3 270.7 1801.7 270.7C1807.0 270.7 1804.3 270.7 1809.7 270.7C1815.0 270.7 1812.3 270.7 1817.7 270.7C1823.0 270.7 1820.4 270.7 1825.7 270.7C1831.0 270.7 1828.4 270.7 1833.7 270.7C1839.1 270.7 1836.4 270.7 1841.7 270.7C1847.1 270.7 1844.4 270.7 1849.7 270.7C1855.1 270.8 1852.4 270.7 1857.8 270.8C1863.1 270.8 1860.4 270.8 1865.8 270.8C1871.1 270.8 1868.4 270.8 1873.8 270.8C1879.1 270.8 1876.4 270.8 1881.8 270.8C1887.1 270.8 1884.5 270.8 1889.8 270.8C1895.1 270.8 1895.1 270.8 1897.8 270.8" fill="none" stroke="#FF0000" stroke-width="9.4" stroke-linecap="round" stroke-linejoin="round" stroke-dasharray="8.8 17.24" stroke-dashoffset="4.6"/>
<path d="M311.6 838.1L365.6 838.1C365.5 842.4 364.9 839.5 365.3 851.0C365.6 862.5 365.9 860.5 366.8 872.6C367.7 884.7 365.3 871.2 367.9 887.2C370.6 903.2 370.1 893.6 374.6 920.5C379.1 947.4 377.4 936.2 381.4 968.0C385.4 999.8 383.0 986.7 386.5 1016.0C390.0 1045.3 388.1 1027.0 392.0 1056.0C395.9 1085.0 393.8 1071.7 398.3 1103.0C402.8 1134.3 400.4 1119.5 405.5 1150.0C410.6 1180.5 408.8 1169.6 413.5 1194.6C418.2 1219.6 415.8 1209.2 419.5 1225.0C423.2 1240.8 422.4 1233.7 424.5 1242.0C426.6 1250.3 424.9 1244.6 425.8 1249.9C426.7 1255.2 426.2 1252.6 427.2 1257.8C428.2 1263.1 427.6 1260.5 428.8 1265.7C429.9 1270.9 429.2 1268.3 430.6 1273.5C431.9 1278.7 431.2 1276.1 432.8 1281.2C434.4 1286.3 433.5 1283.8 435.4 1288.8C437.3 1293.8 436.3 1291.3 438.5 1296.2C440.6 1301.1 439.5 1298.7 441.9 1303.5C444.4 1308.2 443.1 1305.9 445.9 1310.4C448.8 1314.9 447.2 1312.8 450.5 1317.0C453.9 1321.1 452.0 1319.3 455.9 1322.9C459.9 1326.5 457.7 1325.3 462.3 1327.7C467.0 1330.1 464.9 1330.2 469.9 1330.0C474.9 1329.9 473.0 1330.1 477.4 1327.4C481.7 1324.6 479.6 1325.8 483.0 1321.7C486.4 1317.6 484.7 1319.6 487.5 1315.1C490.2 1310.5 488.9 1312.8 491.3 1308.0C493.6 1303.2 492.5 1305.6 494.6 1300.7C496.8 1295.8 495.7 1298.3 497.7 1293.3C499.7 1288.3 498.7 1290.8 500.6 1285.8C502.5 1280.8 501.6 1283.3 503.5 1278.3C505.3 1273.3 504.4 1275.8 506.3 1270.8C508.1 1265.8 507.2 1268.3 509.1 1263.3C510.9 1258.2 510.0 1260.8 511.8 1255.7C513.6 1250.7 512.7 1253.2 514.5 1248.2C516.3 1243.1 515.4 1245.7 517.2 1240.6C518.9 1235.6 518.1 1238.1 519.8 1233.0C521.5 1227.9 520.7 1230.5 522.3 1225.4C524.0 1220.3 523.2 1222.9 524.8 1217.8C526.4 1212.7 525.6 1215.2 527.2 1210.1C528.8 1205.0 528.0 1207.5 529.5 1202.4C531.1 1197.3 530.3 1199.9 531.8 1194.7C533.3 1189.6 532.6 1192.2 534.0 1187.0C535.5 1181.9 534.8 1184.5 536.3 1179.3C537.7 1174.2 537.0 1176.7 538.4 1171.6C539.9 1166.4 539.1 1169.0 540.6 1163.9C542.0 1158.7 541.3 1161.3 542.7 1156.1C544.1 1151.0 543.4 1153.5 544.8 1148.4C546.2 1143.2 545.5 1145.8 546.9 1140.6C548.3 1135.5 547.6 1138.0 549.0 1132.9C550.4 1127.7 549.7 1130.3 551.1 1125.1C552.5 1120.0 551.8 1122.6 553.2 1117.4C554.6 1112.2 553.9 1114.8 555.3 1109.7C556.8 1104.5 556.0 1107.1 557.5 1101.9C558.9 1096.8 556.7 1104.5 559.7 1094.2C562.6 1083.9 561.8 1086.5 566.4 1071.1C571.0 1055.7 568.6 1063.4 573.5 1048.1C578.3 1032.8 575.8 1040.4 581.0 1025.2C586.2 1010.0 583.5 1017.6 589.0 1002.5C594.6 987.5 592.6 992.4 597.7 980.0C602.8 967.7 599.5 975.0 604.3 965.4C609.0 955.9 606.3 960.4 612.0 951.4C617.7 942.3 614.5 946.5 621.3 938.3C628.1 930.1 626.6 932.2 632.3 926.7C638.1 921.1 634.3 924.7 638.6 921.6C642.9 918.6 640.7 919.9 645.4 917.4C650.1 914.8 647.7 915.9 652.7 914.1C657.7 912.2 655.2 913.0 660.4 911.9C665.6 910.8 663.0 911.2 668.3 910.7C673.7 910.3 671.0 910.4 676.4 910.5C681.7 910.6 679.0 910.5 684.4 910.9C689.7 911.4 687.0 911.1 692.3 912.0C697.6 912.8 695.0 912.3 700.2 913.4C705.5 914.5 702.8 913.9 708.0 915.2C713.2 916.5 710.6 915.8 715.8 917.3C721.0 918.7 718.4 918.0 723.5 919.5C728.6 921.0 726.1 920.2 731.2 921.7C736.3 923.2 733.8 922.5 738.9 924.0C744.1 925.4 741.5 924.8 746.7 926.1C751.8 927.5 749.2 926.8 754.4 928.0C759.7 929.2 757.0 928.6 762.3 929.7C767.5 930.8 764.9 930.3 770.2 931.3C775.4 932.3 772.8 931.8 778.1 932.7C783.3 933.6 780.7 933.2 786.0 934.1C791.2 935.0 788.6 934.5 793.9 935.4C799.1 936.3 796.5 935.9 801.8 936.7C807.1 937.6 804.4 937.2 809.7 938.1C815.0 938.9 812.3 938.5 817.6 939.4C822.9 940.3 820.3 939.8 825.5 940.7C830.8 941.6 828.2 941.1 833.4 942.0C838.7 942.9 836.1 942.5 841.4 943.4C846.6 944.3 844.0 943.9 849.3 944.8C854.5 945.7 851.9 945.3 857.2 946.2C862.4 947.2 859.8 946.7 865.0 947.7C870.3 948.7 867.7 948.2 872.9 949.2C878.2 950.2 875.6 949.7 880.8 950.8C886.0 951.9 883.4 951.3 888.6 952.4C893.9 953.6 891.3 953.0 896.5 954.2C901.7 955.3 899.1 954.7 904.3 956.0C909.5 957.2 906.9 956.6 912.1 957.9C917.3 959.2 914.7 958.5 919.9 959.9C925.0 961.2 922.5 960.5 927.6 962.0C932.8 963.4 930.2 962.6 935.3 964.2C940.5 965.7 937.9 964.9 943.0 966.5C948.1 968.1 945.6 967.3 950.7 968.9C955.7 970.6 953.2 969.7 958.3 971.5C963.3 973.2 960.8 972.3 965.8 974.2C970.8 976.0 968.3 975.1 973.3 977.0C978.3 979.0 975.8 978.0 980.8 980.0C985.7 982.0 983.3 981.0 988.2 983.1C993.1 985.2 990.6 984.2 995.5 986.3C1000.4 988.5 998.0 987.4 1002.9 989.6C1007.8 991.8 1005.3 990.7 1010.2 992.9C1015.1 995.1 1012.6 994.0 1017.5 996.1C1022.4 998.3 1019.9 997.3 1024.8 999.4C1029.7 1001.6 1027.3 1000.5 1032.2 1002.6C1037.1 1004.7 1034.7 1003.7 1039.6 1005.7C1044.6 1007.7 1042.1 1006.7 1047.1 1008.7C1052.1 1010.6 1049.6 1009.7 1054.6 1011.4C1059.6 1013.2 1057.1 1012.4 1062.2 1014.0C1067.3 1015.7 1064.7 1014.9 1069.9 1016.3C1075.0 1017.8 1072.4 1017.1 1077.6 1018.4C1082.8 1019.6 1080.2 1019.1 1085.5 1020.0C1090.7 1021.0 1088.1 1020.6 1093.4 1021.3C1098.7 1022.0 1096.1 1021.7 1101.4 1022.1C1106.7 1022.5 1104.1 1022.4 1109.4 1022.4C1114.8 1022.4 1112.1 1022.5 1117.4 1022.2C1122.8 1021.9 1120.1 1022.1 1125.4 1021.5C1130.7 1021.0 1128.1 1021.3 1133.4 1020.5C1138.7 1019.6 1136.0 1020.1 1141.3 1019.0C1146.5 1018.0 1143.9 1018.6 1149.1 1017.3C1154.3 1016.1 1151.7 1016.7 1156.9 1015.3C1162.0 1013.9 1159.5 1014.6 1164.6 1013.1C1169.7 1011.5 1167.2 1012.3 1172.2 1010.6C1177.3 1009.0 1174.8 1009.8 1179.8 1008.1C1184.9 1006.3 1182.4 1007.2 1187.4 1005.4C1192.4 1003.5 1189.9 1004.4 1194.9 1002.6C1199.9 1000.7 1197.4 1001.6 1202.4 999.7C1207.4 997.8 1204.9 998.7 1209.9 996.8C1214.9 994.8 1212.4 995.8 1217.4 993.8C1222.3 991.9 1219.8 992.9 1224.8 990.9C1229.8 989.0 1227.3 989.9 1232.3 988.0C1237.3 986.1 1234.8 987.0 1239.8 985.1C1244.8 983.2 1242.3 984.1 1247.3 982.2C1252.3 980.3 1249.8 981.3 1254.8 979.4C1259.8 977.5 1257.3 978.4 1262.3 976.6C1267.3 974.8 1264.8 975.7 1269.9 973.9C1274.9 972.1 1272.4 973.0 1277.4 971.3C1282.5 969.5 1280.0 970.4 1285.1 968.7C1290.1 967.0 1287.6 967.9 1292.7 966.3C1297.8 964.7 1295.2 965.4 1300.4 963.9C1305.5 962.4 1302.9 963.1 1308.1 961.7C1313.2 960.2 1310.6 960.9 1315.8 959.6C1321.0 958.3 1318.4 958.9 1323.6 957.6C1328.8 956.4 1326.2 957.0 1331.4 955.8C1336.7 954.7 1334.0 955.2 1339.3 954.2C1344.5 953.1 1341.9 953.6 1347.2 952.6C1352.4 951.6 1349.8 952.1 1355.1 951.2C1360.3 950.3 1357.7 950.7 1363.0 949.9C1368.3 949.1 1365.6 949.5 1370.9 948.8C1376.2 948.1 1373.6 948.4 1378.9 947.8C1384.2 947.1 1381.5 947.4 1386.9 946.9C1392.2 946.3 1389.5 946.6 1394.8 946.1C1400.2 945.6 1397.5 945.8 1402.8 945.4C1408.2 945.0 1405.5 945.2 1410.8 944.9C1416.2 944.6 1413.5 944.7 1418.9 944.5C1424.2 944.2 1421.5 944.3 1426.9 944.2C1432.2 944.0 1429.5 944.1 1434.9 944.0C1440.2 943.9 1437.6 943.9 1442.9 943.9C1448.3 943.9 1445.6 943.9 1450.9 944.0C1456.3 944.1 1453.6 944.0 1459.0 944.2C1464.3 944.3 1461.6 944.2 1467.0 944.4C1472.3 944.6 1469.7 944.5 1475.0 944.8C1480.3 945.1 1477.7 944.9 1483.0 945.3C1488.4 945.6 1485.7 945.5 1491.0 945.9C1496.4 946.3 1493.7 946.1 1499.0 946.5C1504.3 947.0 1501.7 946.7 1507.0 947.3C1512.3 947.8 1509.7 947.5 1515.0 948.1C1520.3 948.6 1517.7 948.3 1523.0 949.0C1528.3 949.6 1525.6 949.2 1530.9 949.9C1536.3 950.5 1533.6 950.2 1538.9 950.9C1544.2 951.5 1541.6 951.2 1546.9 951.9C1552.2 952.6 1549.5 952.2 1554.8 953.0C1560.1 953.7 1557.5 953.3 1562.8 954.1C1568.1 954.8 1565.4 954.4 1570.7 955.2C1576.0 955.9 1573.4 955.6 1578.7 956.3C1584.0 957.1 1581.3 956.7 1586.6 957.5C1591.9 958.2 1589.2 957.9 1594.5 958.6C1599.8 959.4 1597.2 959.0 1602.5 959.8C1607.8 960.5 1605.1 960.1 1610.4 960.9C1615.7 961.7 1613.1 961.3 1618.4 962.0C1623.7 962.8 1621.0 962.4 1626.3 963.1C1631.6 963.8 1629.0 963.5 1634.3 964.2C1639.6 964.9 1636.9 964.5 1642.2 965.2C1647.5 965.9 1644.9 965.6 1650.2 966.2C1655.5 966.8 1652.9 966.5 1658.2 967.1C1663.5 967.7 1660.8 967.4 1666.1 968.0C1671.5 968.5 1668.8 968.3 1674.1 968.8C1679.5 969.3 1676.8 969.1 1682.1 969.5C1687.5 970.0 1684.8 969.8 1690.1 970.2C1695.5 970.6 1692.8 970.4 1698.1 970.7C1703.5 971.1 1700.8 970.9 1706.1 971.2C1711.5 971.5 1708.8 971.4 1714.2 971.6C1719.5 971.9 1716.8 971.8 1722.2 972.0C1727.5 972.2 1724.8 972.1 1730.2 972.2C1735.5 972.4 1732.9 972.3 1738.2 972.4C1743.6 972.5 1740.9 972.5 1746.2 972.5C1751.6 972.6 1748.9 972.6 1754.3 972.6C1759.6 972.6 1756.9 972.6 1762.3 972.5C1767.6 972.5 1765.0 972.5 1770.3 972.5C1775.7 972.4 1773.0 972.4 1778.3 972.3C1783.7 972.2 1781.0 972.3 1786.4 972.1C1791.7 971.9 1789.0 972.0 1794.4 971.8C1799.7 971.6 1797.1 971.7 1802.4 971.5C1807.7 971.3 1805.1 971.4 1810.4 971.2C1815.8 970.9 1813.1 971.0 1818.4 970.7C1823.8 970.4 1821.1 970.6 1826.4 970.3C1831.8 969.9 1829.1 970.1 1834.4 969.7C1839.8 969.4 1837.1 969.6 1842.4 969.2C1847.8 968.8 1845.1 969.0 1850.5 968.6C1855.8 968.2 1853.1 968.4 1858.5 967.9C1863.8 967.5 1861.1 967.7 1866.4 967.3C1871.8 966.8 1869.1 967.0 1874.4 966.6C1879.8 966.1 1877.1 966.3 1882.4 965.8C1887.8 965.3 1885.1 965.6 1890.4 965.0C1895.7 964.5 1893.1 964.8 1898.4 964.2C1903.7 963.7 1901.1 964.0 1906.4 963.4C1911.7 962.8 1909.0 963.1 1914.4 962.5C1919.7 961.9 1917.0 962.2 1922.3 961.6C1927.7 961.0 1925.0 961.3 1930.3 960.7C1935.6 960.1 1933.0 960.4 1938.3 959.8C1943.6 959.2 1940.9 959.5 1946.3 958.9C1951.6 958.3 1948.9 958.6 1954.2 958.0C1959.5 957.3 1956.9 957.6 1962.2 957.0C1967.5 956.4 1964.9 956.7 1970.2 956.1C1975.5 955.4 1972.8 955.8 1978.1 955.1C1983.4 954.5 1980.8 954.8 1986.1 954.2C1991.4 953.6 1988.8 953.9 1994.1 953.3C1999.4 952.6 1996.7 952.9 2002.0 952.3C2007.4 951.7 2004.7 952.0 2010.0 951.4C2015.3 950.8 2012.7 951.1 2018.0 950.5C2023.3 950.0 2020.7 950.2 2026.0 949.7C2031.3 949.1 2028.6 949.4 2034.0 948.8C2039.3 948.3 2036.6 948.6 2041.9 948.0C2047.3 947.5 2044.6 947.7 2049.9 947.2C2055.2 946.7 2052.6 947.0 2057.9 946.5C2063.2 946.0 2060.6 946.2 2065.9 945.8C2071.2 945.3 2068.6 945.5 2073.9 945.1C2079.2 944.7 2076.6 944.9 2081.9 944.5C2087.2 944.1 2084.6 944.3 2089.9 943.9C2095.2 943.6 2092.6 943.7 2097.9 943.4C2103.3 943.1 2100.6 943.2 2105.9 942.9C2111.3 942.6 2108.6 942.8 2113.9 942.5C2119.3 942.3 2116.6 942.4 2122.0 942.2C2127.3 942.0 2124.6 942.1 2130.0 941.9C2135.3 941.7 2132.7 941.8 2138.0 941.7C2143.3 941.6 2140.7 941.6 2146.0 941.6C2151.4 941.5 2148.7 941.5 2154.0 941.5C2159.4 941.5 2156.7 941.5 2162.1 941.5C2167.4 941.5 2164.7 941.5 2170.1 941.6C2175.4 941.6 2172.8 941.6 2178.1 941.7C2183.5 941.8 2180.8 941.7 2186.1 941.9C2191.5 942.0 2188.8 941.9 2194.2 942.1C2199.5 942.2 2196.8 942.2 2202.2 942.3C2207.5 942.5 2204.9 942.4 2210.2 942.6C2215.6 942.8 2212.9 942.7 2218.2 943.0C2223.6 943.2 2220.9 943.1 2226.2 943.3C2231.6 943.6 2228.9 943.4 2234.3 943.7C2239.6 944.0 2236.9 943.8 2242.3 944.1C2247.6 944.4 2244.9 944.2 2250.3 944.5C2255.6 944.8 2253.0 944.7 2258.3 944.9C2263.6 945.2 2261.0 945.1 2266.3 945.4C2271.7 945.6 2269.0 945.5 2274.3 945.8C2279.7 946.1 2277.0 945.9 2282.3 946.2C2287.7 946.5 2285.0 946.3 2290.4 946.6C2295.7 946.9 2293.0 946.7 2298.4 947.0C2303.7 947.2 2301.0 947.1 2306.4 947.3C2311.7 947.6 2309.1 947.5 2314.4 947.7C2319.8 947.9 2317.1 947.8 2322.4 948.0C2327.8 948.2 2325.1 948.1 2330.4 948.3C2335.8 948.4 2333.1 948.3 2338.5 948.5C2343.8 948.6 2341.1 948.6 2346.5 948.7C2351.8 948.8 2349.2 948.7 2354.5 948.8C2359.9 948.9 2357.2 948.8 2362.5 948.9C2367.9 948.9 2367.9 948.9 2370.6 948.9" fill="none" stroke="#0000FF" stroke-width="9.4" stroke-linecap="round" stroke-linejoin="round"/>
<path d="M311.6 838.1L365.6 838.1C365.8 842.4 365.3 839.5 366.3 851.0C367.3 862.5 367.3 860.5 368.7 872.6C370.1 884.7 367.5 871.2 370.5 887.2C373.5 903.2 373.0 893.6 377.6 920.5C382.2 947.4 380.3 936.2 384.4 968.0C388.5 999.8 385.9 986.7 389.9 1016.0C394.0 1045.3 391.8 1027.0 396.6 1056.0C401.3 1085.0 398.8 1071.7 404.2 1103.0C409.6 1134.3 408.0 1130.0 412.7 1150.0C417.5 1170.0 414.9 1150.7 418.5 1163.0C422.1 1175.3 420.1 1171.1 423.5 1187.0C426.9 1202.9 423.3 1196.4 428.6 1210.7C433.9 1225.0 432.2 1218.9 439.3 1230.0C446.4 1241.1 444.1 1236.1 450.0 1244.0C455.9 1251.9 452.6 1246.6 457.1 1253.6C461.6 1260.6 459.5 1257.2 463.5 1265.0C467.5 1272.8 465.2 1264.8 469.0 1277.1C472.8 1289.4 470.7 1285.1 474.8 1301.9C478.9 1318.7 477.0 1310.8 481.4 1327.6C485.8 1344.4 483.3 1335.9 488.1 1352.4C492.9 1368.9 492.4 1366.3 495.7 1377.1C499.0 1387.9 496.4 1379.7 497.9 1384.8C499.5 1389.9 498.7 1387.4 500.3 1392.4C502.0 1397.5 501.1 1395.0 502.9 1400.0C504.7 1405.1 503.7 1402.6 505.7 1407.5C507.6 1412.5 506.6 1410.1 508.7 1414.9C510.9 1419.8 509.7 1417.4 512.1 1422.2C514.5 1426.9 513.3 1424.6 516.0 1429.2C518.7 1433.8 517.2 1431.6 520.2 1436.0C523.3 1440.4 521.6 1438.3 525.1 1442.4C528.5 1446.5 526.7 1444.5 530.5 1448.3C534.3 1452.0 532.4 1450.2 536.5 1453.5C540.7 1456.9 538.6 1455.3 543.0 1458.3C547.4 1461.3 545.2 1459.8 549.7 1462.6C554.3 1465.4 552.0 1464.0 556.7 1466.6C561.3 1469.2 559.0 1467.9 563.7 1470.5C568.4 1473.0 566.0 1471.7 570.7 1474.3C575.4 1476.9 573.1 1475.6 577.7 1478.2C582.4 1480.8 580.0 1479.5 584.7 1482.2C589.3 1484.8 587.0 1483.5 591.6 1486.2C596.2 1488.9 593.9 1487.5 598.5 1490.2C603.1 1492.9 600.8 1491.6 605.4 1494.2C610.1 1496.9 607.7 1495.6 612.4 1498.2C617.0 1500.9 614.7 1499.6 619.4 1502.2C624.0 1504.8 621.7 1503.5 626.4 1506.0C631.1 1508.5 628.7 1507.3 633.5 1509.7C638.2 1512.2 635.8 1511.0 640.6 1513.3C645.5 1515.6 643.0 1514.5 647.9 1516.7C652.8 1518.9 650.3 1517.8 655.3 1519.9C660.2 1521.9 657.7 1520.9 662.7 1522.8C667.7 1524.6 665.2 1523.7 670.3 1525.4C675.4 1527.0 672.8 1526.3 678.0 1527.6C683.1 1529.0 680.5 1528.4 685.8 1529.5C691.0 1530.6 688.4 1530.2 693.6 1531.0C698.9 1531.8 696.3 1531.5 701.6 1532.0C706.9 1532.5 704.2 1532.3 709.6 1532.6C714.9 1532.8 712.2 1532.8 717.6 1532.7C722.9 1532.7 720.3 1532.8 725.6 1532.4C730.9 1532.1 728.3 1532.4 733.6 1531.7C738.9 1531.1 736.2 1531.5 741.5 1530.6C746.7 1529.7 744.1 1530.2 749.3 1529.0C754.5 1527.8 752.0 1528.4 757.1 1526.9C762.2 1525.4 759.7 1526.3 764.7 1524.5C769.7 1522.7 767.2 1523.6 772.2 1521.6C777.1 1519.5 774.7 1520.6 779.5 1518.3C784.3 1516.1 781.9 1517.2 786.7 1514.8C791.4 1512.4 789.1 1513.6 793.8 1511.1C798.5 1508.5 796.1 1509.8 800.8 1507.2C805.4 1504.5 803.1 1505.8 807.7 1503.1C812.3 1500.4 810.0 1501.8 814.5 1499.0C819.1 1496.3 816.8 1497.6 821.4 1494.9C826.0 1492.1 823.7 1493.5 828.3 1490.7C832.8 1488.0 830.5 1489.3 835.1 1486.6C839.7 1483.9 837.4 1485.2 842.0 1482.5C846.6 1479.8 844.3 1481.1 849.0 1478.5C853.6 1475.9 851.3 1477.2 856.0 1474.6C860.7 1472.1 858.3 1473.3 863.0 1470.9C867.8 1468.5 865.4 1469.6 870.2 1467.4C875.1 1465.1 872.6 1466.2 877.5 1464.0C882.4 1461.9 879.9 1462.9 884.9 1461.0C889.9 1459.0 887.4 1459.9 892.4 1458.2C897.5 1456.5 894.9 1457.3 900.1 1455.8C905.2 1454.4 902.6 1455.0 907.8 1453.8C913.1 1452.7 910.4 1453.2 915.7 1452.3C921.0 1451.4 918.3 1451.8 923.6 1451.1C928.9 1450.4 926.3 1450.7 931.6 1450.2C936.9 1449.8 934.2 1450.0 939.6 1449.7C944.9 1449.4 942.2 1449.5 947.6 1449.4C952.9 1449.3 950.3 1449.3 955.6 1449.3C960.9 1449.4 958.3 1449.3 963.6 1449.5C968.9 1449.6 966.3 1449.5 971.6 1449.7C976.9 1449.9 974.3 1449.8 979.6 1450.1C984.9 1450.4 982.3 1450.2 987.6 1450.6C992.9 1450.9 990.3 1450.7 995.6 1451.0C1000.9 1451.4 998.3 1451.2 1003.6 1451.5C1008.9 1451.9 1006.3 1451.7 1011.6 1452.0C1016.9 1452.3 1014.3 1452.2 1019.6 1452.4C1024.9 1452.7 1022.3 1452.6 1027.6 1452.8C1032.9 1453.0 1030.3 1452.9 1035.6 1453.0C1040.9 1453.1 1038.3 1453.1 1043.6 1453.1C1048.9 1453.0 1046.3 1453.1 1051.6 1453.0C1057.0 1452.9 1054.3 1453.0 1059.6 1452.8C1065.0 1452.6 1062.3 1452.7 1067.6 1452.4C1073.0 1452.1 1070.3 1452.3 1075.6 1451.9C1080.9 1451.5 1078.3 1451.7 1083.6 1451.3C1088.9 1450.8 1086.3 1451.1 1091.6 1450.5C1096.9 1450.0 1094.2 1450.3 1099.5 1449.6C1104.8 1449.0 1102.2 1449.3 1107.5 1448.6C1112.8 1447.8 1110.1 1448.2 1115.4 1447.4C1120.7 1446.6 1118.0 1447.0 1123.3 1446.1C1128.6 1445.2 1125.9 1445.7 1131.2 1444.7C1136.4 1443.7 1133.8 1444.2 1139.1 1443.1C1144.3 1442.1 1141.7 1442.6 1146.9 1441.5C1152.1 1440.3 1149.5 1440.9 1154.7 1439.7C1159.9 1438.5 1157.3 1439.1 1162.5 1437.8C1167.7 1436.5 1165.1 1437.1 1170.2 1435.8C1175.4 1434.4 1172.8 1435.1 1178.0 1433.7C1183.1 1432.3 1180.5 1433.0 1185.7 1431.5C1190.8 1430.1 1188.2 1430.8 1193.4 1429.3C1198.5 1427.8 1195.9 1428.6 1201.1 1427.1C1206.2 1425.6 1203.6 1426.3 1208.8 1424.8C1213.9 1423.3 1211.3 1424.1 1216.4 1422.6C1221.6 1421.1 1219.0 1421.8 1224.1 1420.4C1229.3 1418.9 1226.7 1419.6 1231.8 1418.2C1237.0 1416.7 1234.4 1417.4 1239.6 1416.1C1244.7 1414.7 1242.1 1415.3 1247.3 1414.0C1252.5 1412.7 1249.9 1413.3 1255.1 1412.0C1260.3 1410.8 1257.7 1411.4 1262.9 1410.2C1268.1 1409.0 1265.5 1409.6 1270.7 1408.5C1275.9 1407.4 1273.3 1407.9 1278.6 1406.9C1283.8 1406.0 1281.2 1406.4 1286.4 1405.6C1291.7 1404.7 1289.1 1405.1 1294.4 1404.4C1299.7 1403.6 1297.0 1404.0 1302.3 1403.3C1307.6 1402.7 1305.0 1403.0 1310.3 1402.5C1315.6 1401.9 1312.9 1402.2 1318.2 1401.7C1323.6 1401.3 1320.9 1401.5 1326.2 1401.1C1331.6 1400.7 1328.9 1400.9 1334.2 1400.6C1339.6 1400.3 1336.9 1400.4 1342.2 1400.2C1347.6 1399.9 1344.9 1400.0 1350.2 1399.8C1355.6 1399.6 1352.9 1399.7 1358.2 1399.6C1363.6 1399.4 1360.9 1399.5 1366.2 1399.3C1371.6 1399.2 1368.9 1399.2 1374.2 1399.1C1379.6 1399.0 1376.9 1399.0 1382.3 1398.9C1387.6 1398.8 1384.9 1398.8 1390.3 1398.7C1395.6 1398.6 1392.9 1398.6 1398.3 1398.5C1403.6 1398.3 1400.9 1398.4 1406.3 1398.2C1411.6 1398.1 1408.9 1398.2 1414.3 1398.0C1419.6 1397.8 1416.9 1397.9 1422.3 1397.7C1427.6 1397.5 1425.0 1397.6 1430.3 1397.4C1435.6 1397.1 1433.0 1397.3 1438.3 1397.0C1443.6 1396.7 1441.0 1396.9 1446.3 1396.6C1451.6 1396.3 1449.0 1396.5 1454.3 1396.1C1459.6 1395.8 1457.0 1396.0 1462.3 1395.7C1467.6 1395.3 1464.9 1395.5 1470.3 1395.1C1475.6 1394.7 1472.9 1394.9 1478.3 1394.5C1483.6 1394.1 1480.9 1394.3 1486.2 1393.8C1491.6 1393.4 1488.9 1393.6 1494.2 1393.1C1499.5 1392.6 1496.9 1392.9 1502.2 1392.3C1507.5 1391.8 1504.9 1392.1 1510.2 1391.5C1515.5 1390.9 1512.8 1391.2 1518.1 1390.5C1523.4 1389.9 1520.8 1390.2 1526.1 1389.5C1531.4 1388.8 1528.7 1389.2 1534.0 1388.4C1539.3 1387.7 1536.6 1388.1 1541.9 1387.3C1547.2 1386.5 1544.6 1386.9 1549.8 1386.1C1555.1 1385.3 1552.5 1385.7 1557.8 1384.8C1563.0 1384.0 1560.4 1384.4 1565.7 1383.6C1570.9 1382.7 1568.3 1383.1 1573.6 1382.2C1578.8 1381.3 1576.2 1381.8 1581.5 1380.9C1586.7 1380.0 1584.1 1380.4 1589.4 1379.5C1594.6 1378.6 1592.0 1379.1 1597.2 1378.2C1602.5 1377.3 1599.9 1377.7 1605.1 1376.8C1610.4 1375.9 1607.8 1376.3 1613.0 1375.4C1618.3 1374.5 1615.7 1375.0 1620.9 1374.1C1626.2 1373.2 1623.6 1373.6 1628.8 1372.8C1634.1 1371.9 1631.5 1372.3 1636.7 1371.5C1642.0 1370.6 1639.4 1371.0 1644.6 1370.2C1649.9 1369.4 1647.3 1369.8 1652.6 1369.0C1657.8 1368.2 1655.2 1368.6 1660.5 1367.8C1665.8 1367.0 1663.1 1367.4 1668.4 1366.7C1673.7 1365.9 1671.1 1366.3 1676.3 1365.6C1681.6 1364.9 1679.0 1365.2 1684.3 1364.5C1689.6 1363.9 1686.9 1364.2 1692.2 1363.5C1697.5 1362.9 1694.9 1363.2 1700.2 1362.6C1705.5 1361.9 1702.8 1362.2 1708.1 1361.6C1713.4 1361.0 1710.8 1361.3 1716.1 1360.7C1721.4 1360.1 1718.7 1360.4 1724.1 1359.8C1729.4 1359.3 1726.7 1359.5 1732.0 1359.0C1737.3 1358.4 1734.7 1358.7 1740.0 1358.2C1745.3 1357.6 1742.6 1357.9 1748.0 1357.4C1753.3 1356.9 1750.6 1357.1 1755.9 1356.6C1761.3 1356.1 1758.6 1356.4 1763.9 1355.9C1769.2 1355.4 1766.6 1355.6 1771.9 1355.2C1777.2 1354.7 1774.6 1354.9 1779.9 1354.5C1785.2 1354.0 1782.5 1354.2 1787.9 1353.8C1793.2 1353.3 1790.5 1353.6 1795.8 1353.1C1801.2 1352.7 1798.5 1352.9 1803.8 1352.5C1809.1 1352.1 1806.5 1352.3 1811.8 1351.9C1817.1 1351.4 1814.5 1351.7 1819.8 1351.2C1825.1 1350.8 1822.5 1351.0 1827.8 1350.6C1833.1 1350.2 1830.4 1350.4 1835.8 1350.0C1841.1 1349.7 1838.4 1349.9 1843.8 1349.5C1849.1 1349.1 1846.4 1349.3 1851.7 1348.9C1857.1 1348.5 1854.4 1348.7 1859.7 1348.3C1865.1 1347.9 1862.4 1348.1 1867.7 1347.7C1873.1 1347.4 1870.4 1347.6 1875.7 1347.2C1881.0 1346.8 1878.4 1347.0 1883.7 1346.6C1889.0 1346.2 1886.4 1346.4 1891.7 1346.0C1897.0 1345.7 1894.4 1345.9 1899.7 1345.5C1905.0 1345.1 1902.3 1345.3 1907.7 1344.9C1913.0 1344.5 1910.3 1344.7 1915.7 1344.3C1921.0 1344.0 1918.3 1344.2 1923.7 1343.8C1929.0 1343.4 1926.3 1343.6 1931.6 1343.2C1937.0 1342.8 1934.3 1343.0 1939.6 1342.6C1945.0 1342.3 1942.3 1342.5 1947.6 1342.1C1952.9 1341.7 1950.3 1341.9 1955.6 1341.5C1960.9 1341.1 1958.3 1341.3 1963.6 1340.9C1968.9 1340.6 1966.3 1340.7 1971.6 1340.4C1976.9 1340.0 1974.3 1340.2 1979.6 1339.8C1984.9 1339.4 1982.2 1339.6 1987.6 1339.2C1992.9 1338.8 1990.2 1339.0 1995.6 1338.7C2000.9 1338.3 1998.2 1338.5 2003.6 1338.1C2008.9 1337.7 2006.2 1337.9 2011.5 1337.5C2016.9 1337.1 2014.2 1337.3 2019.5 1336.9C2024.9 1336.6 2022.2 1336.7 2027.5 1336.4C2032.8 1336.0 2030.2 1336.2 2035.5 1335.8C2040.8 1335.4 2038.2 1335.6 2043.5 1335.2C2048.8 1334.8 2046.2 1335.0 2051.5 1334.6C2056.8 1334.2 2054.2 1334.4 2059.5 1334.0C2064.8 1333.7 2062.1 1333.9 2067.5 1333.5C2072.8 1333.1 2070.1 1333.3 2075.5 1332.9C2080.8 1332.5 2078.1 1332.7 2083.4 1332.3C2088.8 1331.9 2086.1 1332.1 2091.4 1331.7C2096.8 1331.3 2094.1 1331.5 2099.4 1331.1C2104.7 1330.7 2102.1 1330.9 2107.4 1330.5C2112.7 1330.1 2110.1 1330.3 2115.4 1329.9C2120.7 1329.5 2118.1 1329.7 2123.4 1329.3C2128.7 1328.9 2126.0 1329.1 2131.4 1328.7C2136.7 1328.3 2134.0 1328.5 2139.4 1328.1C2144.7 1327.7 2142.0 1327.9 2147.3 1327.5C2152.7 1327.1 2150.0 1327.3 2155.3 1326.9C2160.7 1326.5 2158.0 1326.7 2163.3 1326.3C2168.6 1325.9 2166.0 1326.1 2171.3 1325.7C2176.6 1325.3 2174.0 1325.5 2179.3 1325.1C2184.6 1324.7 2182.0 1324.9 2187.3 1324.5C2192.6 1324.1 2189.9 1324.3 2195.3 1323.9C2200.6 1323.5 2197.9 1323.7 2203.3 1323.3C2208.6 1322.9 2205.9 1323.1 2211.2 1322.7C2216.6 1322.2 2213.9 1322.5 2219.2 1322.0C2224.6 1321.6 2221.9 1321.8 2227.2 1321.4C2232.5 1321.0 2229.9 1321.2 2235.2 1320.8C2240.5 1320.4 2237.9 1320.6 2243.2 1320.1C2248.5 1319.7 2245.8 1319.9 2251.2 1319.5C2256.5 1319.1 2253.8 1319.3 2259.2 1318.9C2264.5 1318.5 2261.8 1318.7 2267.1 1318.2C2272.5 1317.8 2269.8 1318.0 2275.1 1317.6C2280.4 1317.2 2277.8 1317.4 2283.1 1316.9C2288.4 1316.5 2285.8 1316.7 2291.1 1316.3C2296.4 1315.9 2293.7 1316.1 2299.1 1315.6C2304.4 1315.2 2301.7 1315.4 2307.1 1315.0C2312.4 1314.5 2309.7 1314.8 2315.0 1314.3C2320.4 1313.9 2317.7 1314.1 2323.0 1313.7C2328.3 1313.2 2325.7 1313.4 2331.0 1313.0C2336.3 1312.5 2333.7 1312.8 2339.0 1312.3C2344.3 1311.9 2341.6 1312.1 2347.0 1311.6C2352.3 1311.2 2349.6 1311.4 2354.9 1311.0C2360.3 1310.5 2357.6 1310.7 2362.9 1310.3C2368.2 1309.8 2368.2 1309.8 2370.9 1309.6" fill="none" stroke="#0000FF" stroke-width="9.4" stroke-linecap="round" stroke-linejoin="round" stroke-dasharray="8.8 17.24" stroke-dashoffset="-5.3"/>
<path d="M311.6 838.1L365.6 838.1C365.7 842.4 364.9 839.5 365.8 851.0C366.7 862.5 366.8 860.5 368.2 872.6C369.6 884.7 367.0 871.2 370.0 887.2C373.0 903.2 372.5 893.6 377.1 920.5C381.7 947.4 379.9 936.2 383.9 968.0C387.9 999.8 385.5 986.7 389.0 1016.0C392.5 1045.3 390.6 1027.0 394.5 1056.0C398.4 1085.0 396.3 1071.7 400.8 1103.0C405.3 1134.3 402.9 1119.5 408.0 1150.0C413.1 1180.5 411.3 1169.6 416.0 1194.6C420.7 1219.6 417.8 1207.1 422.0 1225.0C426.2 1242.9 426.4 1240.5 428.6 1248.2C430.7 1245.8 430.2 1245.8 435.0 1241.0C439.8 1236.2 435.5 1242.8 442.9 1233.9C450.3 1225.0 449.4 1224.9 457.1 1214.3C464.8 1203.7 459.4 1210.9 466.0 1202.0C472.6 1193.1 471.4 1194.2 477.0 1187.5C482.6 1180.8 479.0 1185.7 482.8 1181.9C486.6 1178.1 484.7 1180.0 488.4 1176.2C492.1 1172.3 490.2 1174.2 493.8 1170.3C497.4 1166.3 495.7 1168.3 499.2 1164.3C502.7 1160.2 500.9 1162.3 504.4 1158.1C507.8 1154.0 506.1 1156.1 509.4 1151.9C512.8 1147.7 511.1 1149.8 514.4 1145.6C517.6 1141.3 516.0 1143.5 519.2 1139.2C522.4 1134.9 520.8 1137.0 523.9 1132.7C527.0 1128.3 525.5 1130.5 528.5 1126.1C531.6 1121.7 530.1 1123.9 533.1 1119.5C536.1 1115.1 534.6 1117.3 537.5 1112.8C540.5 1108.3 539.0 1110.6 541.9 1106.1C544.9 1101.6 543.4 1103.9 546.3 1099.3C549.2 1094.8 547.7 1097.1 550.6 1092.6C553.4 1088.0 552.0 1090.3 554.9 1085.8C557.7 1081.2 554.9 1085.8 559.1 1078.9C563.3 1072.1 561.9 1074.4 567.5 1065.3C573.2 1056.2 570.3 1060.7 576.0 1051.6C581.6 1042.5 578.8 1047.0 584.5 1038.0C590.2 1029.0 587.3 1033.5 593.2 1024.5C599.1 1015.5 596.1 1020.0 602.1 1011.1C608.1 1002.3 605.0 1006.7 611.3 997.9C617.5 989.2 614.3 993.5 620.8 985.0C627.2 976.4 623.9 980.6 630.6 972.3C637.3 964.0 633.9 968.1 640.9 960.0C647.9 951.9 644.3 955.8 651.6 948.0C659.0 940.3 655.2 944.0 662.9 936.6C670.7 929.2 668.8 931.1 674.8 925.8C680.8 920.5 676.8 924.0 681.0 920.6C685.1 917.3 683.0 918.9 687.3 915.7C691.5 912.5 689.4 914.0 693.8 910.9C698.1 907.9 695.9 909.4 700.4 906.4C704.9 903.5 702.6 904.9 707.2 902.2C711.8 899.4 709.5 900.7 714.2 898.2C718.9 895.6 716.5 896.8 721.3 894.5C726.1 892.1 723.7 893.2 728.5 891.0C733.4 888.8 731.0 889.9 735.9 887.9C740.9 885.9 738.4 886.8 743.4 885.0C748.5 883.2 745.9 884.1 751.0 882.4C756.1 880.8 753.6 881.5 758.7 880.1C763.9 878.6 761.3 879.3 766.5 878.0C771.7 876.7 769.1 877.3 774.3 876.1C779.5 875.0 776.9 875.5 782.1 874.5C787.4 873.5 784.8 874.0 790.1 873.2C795.3 872.3 792.7 872.7 798.0 872.0C803.3 871.3 800.7 871.6 806.0 871.1C811.3 870.6 808.6 870.8 814.0 870.4C819.3 870.0 816.7 870.1 822.0 869.9C827.3 869.6 824.7 869.7 830.0 869.6C835.4 869.4 832.7 869.5 838.0 869.4C843.4 869.4 840.7 869.4 846.1 869.5C851.4 869.6 848.8 869.5 854.1 869.7C859.5 869.9 856.8 869.8 862.1 870.1C867.5 870.4 864.8 870.2 870.1 870.6C875.5 871.0 872.8 870.8 878.1 871.2C883.5 871.7 880.8 871.4 886.1 872.0C891.5 872.5 888.8 872.2 894.1 872.8C899.4 873.4 896.8 873.1 902.1 873.7C907.4 874.4 904.8 874.0 910.1 874.7C915.4 875.4 912.7 875.0 918.0 875.7C923.3 876.4 920.7 876.1 926.0 876.8C931.3 877.5 928.6 877.2 934.0 877.9C939.3 878.6 936.6 878.3 941.9 879.0C947.2 879.8 944.6 879.4 949.9 880.1C955.2 880.9 952.5 880.5 957.8 881.2C963.1 881.9 960.5 881.6 965.8 882.3C971.1 883.0 968.4 882.7 973.7 883.3C979.0 884.0 976.4 883.7 981.7 884.3C987.0 884.9 984.4 884.6 989.7 885.2C995.0 885.8 992.3 885.5 997.7 886.0C1003.0 886.6 1000.3 886.3 1005.7 886.8C1011.0 887.3 1008.3 887.1 1013.7 887.5C1019.0 888.0 1016.3 887.8 1021.7 888.2C1027.0 888.6 1024.3 888.4 1029.7 888.8C1035.0 889.2 1032.3 889.0 1037.7 889.4C1043.0 889.7 1040.4 889.6 1045.7 889.9C1051.0 890.2 1048.4 890.1 1053.7 890.4C1059.1 890.6 1056.4 890.5 1061.7 890.8C1067.1 891.0 1064.4 890.9 1069.8 891.1C1075.1 891.4 1072.4 891.2 1077.8 891.4C1083.1 891.6 1080.5 891.6 1085.8 891.7C1091.2 891.9 1088.5 891.8 1093.8 892.0C1099.2 892.1 1096.5 892.0 1101.9 892.2C1107.2 892.3 1104.5 892.2 1109.9 892.3C1115.2 892.4 1112.6 892.4 1117.9 892.5C1123.3 892.5 1120.6 892.5 1125.9 892.5C1131.3 892.6 1128.6 892.6 1134.0 892.6C1139.3 892.7 1136.7 892.6 1142.0 892.7C1147.4 892.7 1144.7 892.7 1150.0 892.7C1155.4 892.7 1152.7 892.7 1158.1 892.7C1163.4 892.6 1160.7 892.7 1166.1 892.6C1171.4 892.6 1168.8 892.6 1174.1 892.6C1179.5 892.5 1176.8 892.6 1182.2 892.5C1187.5 892.5 1184.8 892.5 1190.2 892.4C1195.5 892.4 1192.9 892.4 1198.2 892.3C1203.6 892.3 1200.9 892.3 1206.2 892.2C1211.6 892.2 1208.9 892.2 1214.3 892.1C1219.6 892.1 1216.9 892.1 1222.3 892.0C1227.7 891.9 1225.0 892.0 1230.3 891.9C1235.7 891.8 1233.0 891.8 1238.4 891.8C1243.7 891.7 1241.0 891.7 1246.4 891.6C1251.7 891.6 1249.1 891.6 1254.4 891.5C1259.8 891.4 1257.1 891.5 1262.4 891.4C1267.8 891.3 1265.1 891.4 1270.5 891.3C1275.8 891.2 1273.2 891.2 1278.5 891.2C1283.9 891.1 1281.2 891.1 1286.5 891.1C1291.9 891.0 1289.2 891.0 1294.6 891.0C1299.9 890.9 1297.2 890.9 1302.6 890.9C1307.9 890.8 1305.3 890.8 1310.6 890.8C1316.0 890.7 1313.3 890.7 1318.7 890.7C1324.0 890.6 1321.3 890.6 1326.7 890.6C1332.0 890.5 1329.4 890.6 1334.7 890.5C1340.1 890.4 1337.4 890.5 1342.7 890.4C1348.1 890.4 1345.4 890.4 1350.8 890.3C1356.1 890.3 1353.4 890.3 1358.8 890.3C1364.2 890.2 1361.5 890.2 1366.8 890.2C1372.2 890.1 1369.5 890.2 1374.9 890.1C1380.2 890.1 1377.5 890.1 1382.9 890.0C1388.2 890.0 1385.6 890.0 1390.9 890.0C1396.3 889.9 1393.6 890.0 1399.0 889.9C1404.3 889.9 1401.6 889.9 1407.0 889.9C1412.3 889.8 1409.7 889.8 1415.0 889.8C1420.4 889.8 1417.7 889.8 1423.0 889.7C1428.4 889.7 1425.7 889.7 1431.1 889.7C1436.4 889.6 1433.7 889.7 1439.1 889.6C1444.5 889.6 1441.8 889.6 1447.1 889.6C1452.5 889.6 1449.8 889.6 1455.2 889.5C1460.5 889.5 1457.8 889.5 1463.2 889.5C1468.5 889.5 1465.9 889.5 1471.2 889.5C1476.6 889.4 1473.9 889.4 1479.3 889.4C1484.6 889.4 1481.9 889.4 1487.3 889.4C1492.6 889.4 1490.0 889.4 1495.3 889.3C1500.7 889.3 1498.0 889.3 1503.3 889.3C1508.7 889.3 1506.0 889.3 1511.4 889.3C1516.7 889.3 1514.0 889.3 1519.4 889.2C1524.8 889.2 1522.1 889.2 1527.4 889.2C1532.8 889.2 1530.1 889.2 1535.5 889.2C1540.8 889.2 1538.1 889.2 1543.5 889.2C1548.8 889.2 1546.2 889.2 1551.5 889.1C1556.9 889.1 1554.2 889.1 1559.6 889.1C1564.9 889.1 1562.2 889.1 1567.6 889.1C1572.9 889.1 1570.3 889.1 1575.6 889.1C1581.0 889.1 1578.3 889.1 1583.6 889.1C1589.0 889.1 1586.3 889.1 1591.7 889.1C1597.0 889.0 1594.4 889.0 1599.7 889.0C1605.1 889.0 1602.4 889.0 1607.7 889.0C1613.1 889.0 1610.4 889.0 1615.8 889.0C1621.1 889.0 1618.4 889.0 1623.8 889.0C1629.1 889.0 1626.5 889.0 1631.8 889.0C1637.2 889.0 1634.5 889.0 1639.9 889.0C1645.2 889.0 1642.5 889.0 1647.9 889.0C1653.2 889.0 1650.6 889.0 1655.9 889.0C1661.3 889.0 1658.6 889.0 1663.9 889.0C1669.3 889.0 1666.6 889.0 1672.0 889.0C1677.3 889.0 1674.7 889.0 1680.0 889.0C1685.4 889.0 1682.7 889.0 1688.0 889.0C1693.4 889.0 1690.7 889.0 1696.1 889.0C1701.4 889.0 1698.7 889.0 1704.1 889.0C1709.5 889.0 1706.8 889.0 1712.1 889.0C1717.5 889.0 1714.8 889.0 1720.2 889.0C1725.5 889.0 1722.8 889.0 1728.2 889.0C1733.5 889.0 1730.9 889.0 1736.2 889.0C1741.6 889.0 1738.9 889.0 1744.2 889.0C1749.6 889.0 1746.9 889.0 1752.3 889.0C1757.6 889.0 1755.0 889.0 1760.3 889.0C1765.7 889.0 1763.0 889.0 1768.3 889.0C1773.7 889.0 1771.0 889.0 1776.4 889.0C1781.7 889.0 1779.0 889.0 1784.4 889.0C1789.8 889.0 1787.1 889.0 1792.4 889.0C1797.8 889.0 1795.1 889.0 1800.5 889.0C1805.8 889.0 1803.1 889.0 1808.5 889.0C1813.8 889.0 1811.2 889.0 1816.5 889.0C1821.9 889.0 1819.2 889.0 1824.5 889.0C1829.9 889.0 1827.2 889.0 1832.6 889.1C1837.9 889.1 1835.3 889.1 1840.6 889.1C1846.0 889.1 1843.3 889.1 1848.6 889.1C1854.0 889.1 1851.3 889.1 1856.7 889.1C1862.0 889.1 1859.3 889.1 1864.7 889.1C1870.1 889.1 1867.4 889.1 1872.7 889.1C1878.1 889.1 1875.4 889.1 1880.8 889.1C1886.1 889.1 1883.4 889.1 1888.8 889.1C1894.1 889.1 1891.5 889.1 1896.8 889.2C1902.2 889.2 1899.5 889.2 1904.9 889.2C1910.2 889.2 1907.5 889.2 1912.9 889.2C1918.2 889.2 1915.6 889.2 1920.9 889.2C1926.3 889.2 1923.6 889.2 1928.9 889.2C1934.3 889.2 1931.6 889.2 1937.0 889.2C1942.3 889.2 1939.6 889.2 1945.0 889.2C1950.4 889.2 1947.7 889.2 1953.0 889.3C1958.4 889.3 1955.7 889.3 1961.1 889.3C1966.4 889.3 1963.7 889.3 1969.1 889.3C1974.4 889.3 1971.8 889.3 1977.1 889.3C1982.5 889.3 1979.8 889.3 1985.2 889.3C1990.5 889.3 1987.8 889.3 1993.2 889.3C1998.5 889.3 1995.9 889.3 2001.2 889.3C2006.6 889.3 2003.9 889.3 2009.2 889.4C2014.6 889.4 2011.9 889.4 2017.3 889.4C2022.6 889.4 2019.9 889.4 2025.3 889.4C2030.7 889.4 2028.0 889.4 2033.3 889.4C2038.7 889.4 2036.0 889.4 2041.4 889.4C2046.7 889.4 2044.0 889.4 2049.4 889.4C2054.7 889.4 2052.1 889.4 2057.4 889.4C2062.8 889.4 2060.1 889.4 2065.5 889.4C2070.8 889.4 2068.1 889.4 2073.5 889.5C2078.8 889.5 2076.2 889.5 2081.5 889.5C2086.9 889.5 2084.2 889.5 2089.5 889.5C2094.9 889.5 2092.2 889.5 2097.6 889.5C2102.9 889.5 2100.3 889.5 2105.6 889.5C2111.0 889.5 2108.3 889.5 2113.6 889.5C2119.0 889.5 2116.3 889.5 2121.7 889.5C2127.0 889.5 2124.3 889.5 2129.7 889.5C2135.0 889.5 2132.4 889.5 2137.7 889.5C2143.1 889.5 2140.4 889.5 2145.8 889.5C2151.1 889.5 2148.4 889.5 2153.8 889.5C2159.1 889.5 2156.5 889.5 2161.8 889.5C2167.2 889.5 2164.5 889.5 2169.8 889.5C2175.2 889.5 2172.5 889.5 2177.9 889.5C2183.2 889.5 2180.6 889.5 2185.9 889.5C2191.3 889.5 2188.6 889.5 2193.9 889.5C2199.3 889.5 2196.6 889.5 2202.0 889.5C2207.3 889.5 2204.6 889.5 2210.0 889.5C2215.4 889.5 2212.7 889.5 2218.0 889.5C2223.4 889.5 2220.7 889.5 2226.1 889.5C2231.4 889.5 2228.7 889.5 2234.1 889.5C2239.4 889.5 2236.8 889.5 2242.1 889.5C2247.5 889.5 2244.8 889.5 2250.1 889.5C2255.5 889.5 2252.8 889.5 2258.2 889.5C2263.5 889.5 2260.9 889.5 2266.2 889.5C2271.6 889.5 2268.9 889.5 2274.2 889.5C2279.6 889.5 2276.9 889.5 2282.3 889.5C2287.6 889.5 2284.9 889.5 2290.3 889.5C2295.7 889.5 2293.0 889.5 2298.3 889.5C2303.7 889.5 2301.0 889.5 2306.4 889.5C2311.7 889.5 2309.0 889.5 2314.4 889.4C2319.7 889.4 2317.1 889.4 2322.4 889.4C2327.8 889.4 2325.1 889.4 2330.4 889.4C2335.8 889.4 2333.1 889.4 2338.5 889.4C2343.8 889.4 2341.2 889.4 2346.5 889.4C2351.9 889.4 2349.2 889.4 2354.5 889.3C2359.9 889.3 2357.2 889.3 2362.6 889.3C2367.9 889.3 2367.9 889.3 2370.6 889.3" fill="none" stroke="#008000" stroke-width="9.4" stroke-linecap="round" stroke-linejoin="round"/>
<path d="M1900 340.9L2370.6 341.5" fill="none" stroke="#008000" stroke-width="9.4" stroke-linecap="round" stroke-dasharray="8.8 17.24" stroke-dashoffset="18.1"/>
<path d="M311.6 838.1L365.6 838.1C365.8 842.4 365.3 839.5 366.3 851.0C367.3 862.5 367.3 860.5 368.7 872.6C370.1 884.7 367.5 871.2 370.5 887.2C373.5 903.2 373.0 893.6 377.6 920.5C382.2 947.4 380.4 936.2 384.4 968.0C388.4 999.8 386.0 986.7 389.5 1016.0C393.0 1045.3 391.0 1027.0 395.0 1056.0C399.0 1085.0 396.3 1071.7 401.4 1103.0C406.5 1134.3 405.0 1129.0 410.2 1150.0C415.4 1171.0 411.8 1153.5 417.0 1166.0C422.2 1178.5 420.3 1173.2 425.9 1187.5C431.5 1201.8 428.9 1193.4 433.9 1208.9C438.9 1224.4 435.6 1218.9 441.0 1233.9C446.4 1248.9 444.0 1243.8 450.0 1254.0C456.0 1264.2 453.7 1262.2 459.0 1264.5C464.3 1266.8 462.5 1266.5 466.0 1261.0C469.5 1255.5 467.7 1258.2 469.5 1248.0C471.3 1237.8 469.7 1245.2 471.5 1230.4C473.3 1215.6 472.6 1220.9 475.0 1203.6C477.4 1186.3 476.2 1195.3 478.6 1178.6C481.0 1161.9 479.7 1170.9 482.1 1153.6C484.5 1136.3 483.3 1144.1 485.7 1126.8C488.1 1109.5 486.9 1118.5 489.3 1101.8C491.7 1085.1 490.5 1093.5 492.9 1076.8C495.3 1060.1 494.0 1069.1 496.4 1051.8C498.8 1034.5 497.6 1041.7 500.0 1025.0C502.4 1008.3 502.1 1012.2 503.6 1001.8C505.1 991.4 503.9 999.1 504.6 993.9C505.3 988.6 504.9 991.2 505.6 985.9C506.3 980.6 505.9 983.3 506.6 978.0C507.3 972.7 507.0 975.3 507.7 970.0C508.4 964.7 508.0 967.4 508.7 962.1C509.4 956.8 509.1 959.4 509.8 954.1C510.5 948.8 510.1 951.5 510.9 946.2C511.6 940.9 511.2 943.5 512.0 938.3C512.7 933.0 512.3 935.6 513.1 930.3C513.8 925.0 513.4 927.7 514.2 922.4C514.9 917.1 514.6 919.7 515.3 914.5C516.1 909.2 515.7 911.8 516.5 906.5C517.2 901.2 516.9 903.9 517.6 898.6C518.4 893.3 518.0 896.0 518.8 890.7C519.6 885.4 519.2 888.0 520.0 882.8C520.8 877.5 520.4 880.1 521.2 874.8C522.0 869.6 521.6 872.2 522.4 866.9C523.3 861.6 522.9 864.3 523.7 859.0C524.5 853.7 524.1 856.4 524.9 851.1C525.8 845.8 525.4 848.5 526.2 843.2C527.1 837.9 526.6 840.5 527.5 835.3C528.3 830.0 527.9 832.6 528.8 827.4C529.7 822.1 529.2 824.7 530.1 819.5C531.0 814.2 530.5 816.8 531.4 811.6C532.3 806.3 531.9 808.9 532.8 803.7C533.7 798.4 533.2 801.0 534.1 795.8C535.0 790.5 534.6 793.1 535.5 787.9C536.4 782.6 535.9 785.2 536.9 780.0C537.8 774.7 537.3 777.4 538.3 772.1C539.2 766.8 538.7 769.5 539.7 764.2C540.6 759.0 540.2 761.6 541.1 756.3C542.1 751.1 541.6 753.7 542.6 748.4C543.5 743.2 543.1 745.8 544.0 740.6C545.0 735.3 544.5 737.9 545.5 732.7C546.5 727.4 546.0 730.1 547.0 724.8C548.0 719.6 547.5 722.2 548.5 717.0C549.5 711.7 549.0 714.3 550.0 709.1C551.1 703.8 550.6 706.5 551.6 701.2C552.6 696.0 552.1 698.6 553.1 693.4C554.2 688.1 553.7 690.8 554.7 685.5C555.8 680.3 555.2 682.9 556.3 677.7C557.4 672.4 556.8 675.0 557.9 669.8C559.0 664.6 556.8 675.0 559.5 662.0C562.3 648.9 561.6 651.5 566.2 630.6C570.7 609.7 568.4 620.2 573.0 599.3C577.7 578.5 575.3 588.9 580.2 568.1C585.0 547.3 582.6 557.7 587.6 536.9C592.6 516.1 590.1 526.5 595.3 505.8C600.5 485.1 598.5 492.8 603.2 474.7C608.0 456.7 605.2 467.0 609.5 451.5C613.8 436.1 611.5 443.8 616.2 428.5C620.9 413.2 618.4 420.8 623.6 405.6C628.8 390.4 626.0 397.9 631.8 383.0C637.5 368.0 635.6 373.0 640.9 360.8C646.2 348.5 643.0 355.8 647.6 346.2C652.2 336.6 649.8 341.3 654.8 331.9C659.8 322.4 657.1 327.1 662.5 317.9C667.9 308.7 664.9 313.0 671.0 304.3C677.1 295.5 673.7 299.5 680.8 291.6C687.8 283.6 686.3 285.7 692.2 280.4C698.2 275.1 694.2 278.6 698.7 275.7C703.1 272.7 700.8 274.1 705.5 271.5C710.2 269.0 707.8 270.1 712.7 268.0C717.6 265.9 715.2 266.8 720.2 265.2C725.3 263.6 722.8 264.2 728.0 263.1C733.2 262.0 730.6 262.4 735.9 261.9C741.2 261.3 738.5 261.4 743.9 261.4C749.2 261.4 746.6 261.3 751.9 261.8C757.2 262.3 754.6 262.0 759.8 263.0C765.1 263.9 762.5 263.4 767.6 264.7C772.8 266.0 770.2 265.3 775.3 266.9C780.4 268.5 777.9 267.7 782.9 269.5C787.9 271.3 785.4 270.4 790.4 272.4C795.3 274.4 792.9 273.3 797.8 275.5C802.7 277.6 800.2 276.5 805.1 278.7C810.0 280.8 807.6 279.8 812.4 282.0C817.3 284.2 814.9 283.1 819.7 285.3C824.6 287.5 822.1 286.4 827.0 288.6C831.9 290.8 829.4 289.7 834.3 291.9C839.2 294.1 836.7 293.0 841.6 295.2C846.4 297.4 844.0 296.3 848.9 298.5C853.8 300.7 851.3 299.6 856.2 301.8C861.1 304.0 858.6 302.9 863.5 305.1C868.4 307.2 866.0 306.1 870.9 308.3C875.8 310.4 873.3 309.3 878.2 311.4C883.1 313.5 880.7 312.5 885.6 314.5C890.6 316.6 888.1 315.5 893.0 317.5C898.0 319.5 895.5 318.5 900.5 320.5C905.5 322.4 903.0 321.5 908.0 323.3C913.0 325.2 910.5 324.3 915.5 326.1C920.5 327.9 918.0 327.0 923.1 328.7C928.1 330.4 925.6 329.6 930.7 331.2C935.8 332.8 933.2 332.1 938.3 333.6C943.4 335.1 940.9 334.4 946.0 335.8C951.2 337.2 948.6 336.5 953.8 337.9C958.9 339.2 956.4 338.5 961.6 339.7C966.8 340.9 964.2 340.4 969.4 341.5C974.6 342.5 972.0 342.0 977.2 343.0C982.5 344.0 979.9 343.5 985.1 344.4C990.4 345.2 987.8 344.8 993.1 345.6C998.3 346.4 995.7 346.0 1001.0 346.7C1006.3 347.3 1003.6 347.0 1009.0 347.6C1014.3 348.2 1011.6 347.9 1016.9 348.4C1022.2 348.9 1019.6 348.7 1024.9 349.1C1030.2 349.5 1027.6 349.3 1032.9 349.6C1038.2 349.9 1035.6 349.8 1040.9 350.0C1046.2 350.3 1043.6 350.2 1048.9 350.4C1054.2 350.5 1051.6 350.5 1056.9 350.6C1062.3 350.7 1059.6 350.7 1064.9 350.7C1070.3 350.8 1067.6 350.8 1072.9 350.8C1078.3 350.8 1075.6 350.8 1080.9 350.7C1086.3 350.7 1083.6 350.7 1089.0 350.6C1094.3 350.5 1091.6 350.6 1097.0 350.5C1102.3 350.3 1099.6 350.4 1105.0 350.2C1110.3 350.1 1107.6 350.2 1113.0 350.0C1118.3 349.8 1115.7 349.9 1121.0 349.6C1126.3 349.4 1123.7 349.5 1129.0 349.3C1134.3 349.0 1131.7 349.2 1137.0 348.9C1142.3 348.6 1139.7 348.8 1145.0 348.5C1150.3 348.2 1147.7 348.4 1153.0 348.1C1158.3 347.8 1155.7 347.9 1161.0 347.6C1166.3 347.3 1163.7 347.5 1169.0 347.2C1174.3 346.9 1171.7 347.0 1177.0 346.7C1182.3 346.4 1179.7 346.6 1185.0 346.3C1190.3 346.0 1187.7 346.2 1193.0 345.9C1198.3 345.6 1195.7 345.7 1201.0 345.5C1206.3 345.2 1203.7 345.4 1209.0 345.1C1214.3 344.8 1211.7 345.0 1217.0 344.7C1222.3 344.5 1219.7 344.6 1225.0 344.4C1230.3 344.2 1227.7 344.3 1233.0 344.0C1238.3 343.8 1235.7 343.9 1241.0 343.7C1246.4 343.5 1243.7 343.6 1249.0 343.4C1254.4 343.2 1251.7 343.3 1257.0 343.1C1262.4 342.9 1259.7 343.0 1265.0 342.9C1270.4 342.7 1267.7 342.8 1273.0 342.6C1278.4 342.4 1275.7 342.5 1281.0 342.4C1286.4 342.2 1283.7 342.3 1289.1 342.1C1294.4 342.0 1291.7 342.1 1297.1 341.9C1302.4 341.8 1299.7 341.8 1305.1 341.7C1310.4 341.6 1307.7 341.6 1313.1 341.5C1318.4 341.4 1315.8 341.5 1321.1 341.3C1326.4 341.2 1323.8 341.3 1329.1 341.2C1334.4 341.1 1331.8 341.1 1337.1 341.0C1342.5 340.9 1339.8 341.0 1345.1 340.9C1350.5 340.8 1347.8 340.8 1353.1 340.8C1358.5 340.7 1355.8 340.7 1361.1 340.6C1366.5 340.6 1363.8 340.6 1369.2 340.5C1374.5 340.5 1371.8 340.5 1377.2 340.4C1382.5 340.4 1379.8 340.4 1385.2 340.3C1390.5 340.3 1387.8 340.3 1393.2 340.3C1398.5 340.2 1395.9 340.2 1401.2 340.2C1406.5 340.1 1403.9 340.2 1409.2 340.1C1414.6 340.1 1411.9 340.1 1417.2 340.1C1422.6 340.0 1419.9 340.1 1425.2 340.0C1430.6 340.0 1427.9 340.0 1433.2 340.0C1438.6 340.0 1435.9 340.0 1441.3 340.0C1446.6 339.9 1443.9 339.9 1449.3 339.9C1454.6 339.9 1451.9 339.9 1457.3 339.9C1462.6 339.9 1460.0 339.9 1465.3 339.9C1470.6 339.9 1468.0 339.9 1473.3 339.9C1478.6 339.9 1476.0 339.9 1481.3 339.9C1486.7 339.9 1484.0 339.9 1489.3 339.9C1494.7 339.9 1492.0 339.9 1497.3 339.9C1502.7 339.9 1500.0 339.9 1505.4 339.9C1510.7 339.9 1508.0 339.9 1513.4 339.9C1518.7 340.0 1516.0 340.0 1521.4 340.0C1526.7 340.0 1524.0 340.0 1529.4 340.0C1534.7 340.0 1532.1 340.0 1537.4 340.0C1542.7 340.0 1540.1 340.0 1545.4 340.1C1550.7 340.1 1548.1 340.1 1553.4 340.1C1558.8 340.1 1556.1 340.1 1561.4 340.1C1566.8 340.1 1564.1 340.1 1569.4 340.2C1574.8 340.2 1572.1 340.2 1577.5 340.2C1582.8 340.2 1580.1 340.2 1585.5 340.2C1590.8 340.3 1588.1 340.2 1593.5 340.3C1598.8 340.3 1596.1 340.3 1601.5 340.3C1606.8 340.3 1604.2 340.3 1609.5 340.3C1614.8 340.4 1612.2 340.4 1617.5 340.4C1622.9 340.4 1620.2 340.4 1625.5 340.4C1630.9 340.4 1628.2 340.4 1633.5 340.4C1638.9 340.5 1636.2 340.5 1641.5 340.5C1646.9 340.5 1644.2 340.5 1649.6 340.5C1654.9 340.5 1652.2 340.5 1657.6 340.5C1662.9 340.6 1660.2 340.6 1665.6 340.6C1670.9 340.6 1668.3 340.6 1673.6 340.6C1678.9 340.6 1676.3 340.6 1681.6 340.6C1686.9 340.6 1684.3 340.6 1689.6 340.7C1695.0 340.7 1692.3 340.7 1697.6 340.7C1703.0 340.7 1700.3 340.7 1705.6 340.7C1711.0 340.7 1708.3 340.7 1713.7 340.7C1719.0 340.7 1716.3 340.7 1721.7 340.7C1727.0 340.8 1724.3 340.8 1729.7 340.8C1735.0 340.8 1732.3 340.8 1737.7 340.8C1743.0 340.8 1740.4 340.8 1745.7 340.8C1751.0 340.8 1748.4 340.8 1753.7 340.8C1759.0 340.8 1756.4 340.8 1761.7 340.8C1767.1 340.8 1764.4 340.8 1769.7 340.9C1775.1 340.9 1772.4 340.9 1777.7 340.9C1783.1 340.9 1780.4 340.9 1785.8 340.9C1791.1 340.9 1788.4 340.9 1793.8 340.9C1799.1 340.9 1796.4 340.9 1801.8 340.9C1807.1 340.9 1804.4 340.9 1809.8 340.9C1815.1 340.9 1812.5 340.9 1817.8 340.9C1823.1 340.9 1820.5 340.9 1825.8 340.9C1831.2 341.0 1828.5 341.0 1833.8 341.0C1839.2 341.0 1836.5 341.0 1841.8 341.0C1847.2 341.0 1844.5 341.0 1849.8 341.0C1855.2 341.0 1852.5 341.0 1857.9 341.0C1863.2 341.0 1860.5 341.0 1865.9 341.0C1871.2 341.0 1868.5 341.0 1873.9 341.0C1879.2 341.0 1876.6 341.0 1881.9 341.0C1887.2 341.0 1884.6 341.0 1889.9 341.0C1895.2 341.0 1895.2 341.0 1897.9 341.0" fill="none" stroke="#008000" stroke-width="9.4" stroke-linecap="round" stroke-linejoin="round" stroke-dasharray="8.8 17.24" stroke-dashoffset="-3.1"/>
<rect x="313.1" y="110.4" width="2057.5" height="1529.6" fill="none" stroke="#000" stroke-width="5.2"/>
<text transform="translate(193.82 1579.24) scale(0.9544 1)" font-size="90.5">56</text>
<text transform="translate(193.96 1400.86) scale(0.9289 1)" font-size="90.5">57</text>
<text transform="translate(193.76 1222.48) scale(0.9650 1)" font-size="90.5">58</text>
<text transform="translate(193.77 1044.10) scale(0.9638 1)" font-size="90.5">59</text>
<text transform="translate(196.00 865.72) scale(0.9380 1)" font-size="90.5">60</text>
<text transform="translate(196.12 687.34) scale(0.9073 1)" font-size="90.5">61</text>
<text transform="translate(195.86 508.96) scale(0.9773 1)" font-size="90.5">62</text>
<text transform="translate(195.97 330.58) scale(0.9476 1)" font-size="90.5">63</text>
<text transform="translate(196.00 152.20) scale(0.9392 1)" font-size="90.5">64</text>
<text transform="translate(320.11 1733.20) scale(0.9629 1)" font-size="90.5">0</text>
<text transform="translate(568.62 1733.20) scale(1.0829 1)" font-size="90.5">5</text>
<text transform="translate(804.76 1733.20) scale(0.9754 1)" font-size="90.5">10</text>
<text transform="translate(1056.86 1733.20) scale(0.9754 1)" font-size="90.5">15</text>
<text transform="translate(1310.77 1733.20) scale(0.9753 1)" font-size="90.5">20</text>
<text transform="translate(1564.52 1733.20) scale(0.9608 1)" font-size="90.5">25</text>
<text transform="translate(1817.58 1733.20) scale(0.9775 1)" font-size="90.5">30</text>
<text transform="translate(2070.92 1733.20) scale(0.9678 1)" font-size="90.5">35</text>
<text transform="translate(2326.30 1733.20) scale(0.9416 1)" font-size="90.5">40</text>
<text transform="translate(1234.71 1813.90) scale(1.0279 1)" font-size="87.4" font-style="italic">Time</text>
<text transform="translate(1431.63 1813.90) scale(0.9737 1)" font-size="86.5">(s)</text>
<text transform="translate(124.40 1220.70) rotate(-90) scale(0.9250 1)" font-size="87.4" font-style="italic">Frequency</text>
<text transform="translate(124.40 845.57) rotate(-90) scale(1.0021 1)" font-size="86.5">(Hz)</text>
<rect x="1487.1" y="162.2" width="852.9" height="697.2" rx="17" ry="17" fill="#fff" stroke="#000" stroke-width="3.7"/>
<line x1="1543.5" y1="208.0" x2="1659.4" y2="208.0" stroke="#FFC000" stroke-width="9.4" stroke-linecap="round"/>
<text transform="translate(1681.11 228.90) scale(1.0638 1)" font-size="72.0">1 w coord.–const Z</text>
<line x1="1543.5" y1="291.6" x2="1659.4" y2="291.6" stroke="#FFC000" stroke-width="9.4" stroke-linecap="round" stroke-dasharray="8.8 17.24"/>
<text transform="translate(1681.07 313.40) scale(1.0687 1)" font-size="72.0">1 w/o coord.–const Z</text>
<line x1="1543.5" y1="376.3" x2="1659.4" y2="376.3" stroke="#FF0000" stroke-width="9.4" stroke-linecap="round"/>
<text transform="translate(1681.94 396.90) scale(1.0623 1)" font-size="72.0">2 w coord.–const Z</text>
<line x1="1543.5" y1="460.5" x2="1659.4" y2="460.5" stroke="#FF0000" stroke-width="9.4" stroke-linecap="round" stroke-dasharray="8.8 17.24"/>
<text transform="translate(1681.93 483.00) scale(1.0673 1)" font-size="72.0">2 w/o coord.–const Z</text>
<line x1="1543.5" y1="544.8" x2="1659.4" y2="544.8" stroke="#0000FF" stroke-width="9.4" stroke-linecap="round"/>
<text transform="translate(1681.00 572.20) scale(1.0805 1)" font-size="72.0">1 w coord.</text>
<line x1="1543.5" y1="629.4" x2="1659.4" y2="629.4" stroke="#0000FF" stroke-width="9.4" stroke-linecap="round" stroke-dasharray="8.8 17.24"/>
<text transform="translate(1681.00 656.70) scale(1.0803 1)" font-size="72.0">1 w/o coord.</text>
<line x1="1543.5" y1="713.4" x2="1659.4" y2="713.4" stroke="#008000" stroke-width="9.4" stroke-linecap="round"/>
<text transform="translate(1681.90 739.00) scale(1.0776 1)" font-size="72.0">2 w coord.</text>
<line x1="1543.5" y1="797.9" x2="1659.4" y2="797.9" stroke="#008000" stroke-width="9.4" stroke-linecap="round" stroke-dasharray="8.8 17.24"/>
<text transform="translate(1681.90 825.10) scale(1.0778 1)" font-size="72.0">2 w/o coord.</text>
</svg>
</body></html>
